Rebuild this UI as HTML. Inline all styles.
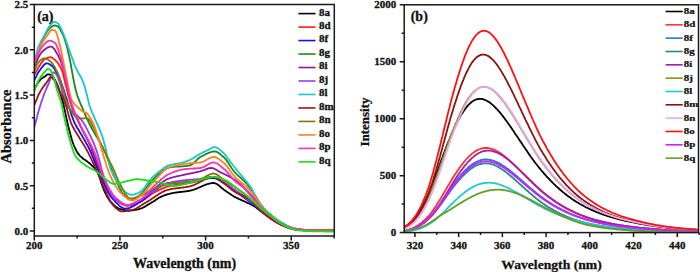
<!DOCTYPE html>
<html><head><meta charset="utf-8"><style>
html,body{margin:0;padding:0;background:#fff;}
svg{display:block;font-family:"Liberation Serif", serif;font-weight:bold;} text{fill:#111;stroke:#111;stroke-width:0.3px;}
</style></head><body>
<svg width="700" height="272" viewBox="0 0 700 272">
<clipPath id="ca"><rect x="34.3" y="4.5" width="300.0" height="231.5"/></clipPath>
<clipPath id="cb"><rect x="404.2" y="4.8" width="294.30" height="227.80"/></clipPath>
<g clip-path="url(#ca)" fill="none" stroke-width="1.8" stroke-linejoin="round"><path d="M34.5,89.0 35.2,87.5 36.0,86.0 36.8,84.6 37.5,83.3 38.2,82.2 39.0,81.1 39.8,80.3 40.5,79.5 41.2,78.9 42.0,78.3 42.8,77.8 43.5,77.3 44.2,76.9 45.0,76.4 45.8,75.8 46.5,75.1 47.2,74.5 48.0,74.3 48.8,74.4 49.5,74.5 50.2,74.7 51.0,75.0 51.8,75.5 52.5,76.2 53.2,77.2 54.0,78.4 54.8,79.6 55.5,80.9 56.2,82.4 57.0,84.1 57.8,85.9 58.5,88.0 59.2,90.2 60.0,92.4 60.8,94.8 61.5,97.3 62.2,99.8 63.0,102.6 63.8,105.7 64.5,109.1 65.2,112.6 66.0,116.2 66.8,119.7 67.5,123.0 68.2,126.0 69.0,128.9 69.8,131.9 70.5,134.8 71.2,137.5 72.0,140.1 72.8,142.5 73.5,144.5 74.2,146.3 75.0,147.9 75.8,149.5 76.5,150.9 77.2,152.2 78.0,153.4 78.8,154.4 79.5,155.3 80.2,156.1 81.0,156.9 81.8,157.5 82.5,158.2 83.2,158.7 84.0,159.3 84.8,159.8 85.5,160.3 86.2,160.8 87.0,161.3 87.8,161.9 88.5,162.4 89.2,163.0 90.0,163.7 90.8,164.4 91.5,165.1 92.2,165.8 93.0,166.5 93.8,167.2 94.5,168.0 95.2,168.9 96.0,169.8 96.8,170.9 97.5,172.0 98.2,173.5 99.0,175.4 99.8,177.7 100.5,180.2 101.2,182.7 102.0,185.0 102.8,187.1 103.5,188.9 104.2,190.6 105.0,192.3 105.8,193.9 106.5,195.4 107.2,196.8 108.0,198.1 108.8,199.3 109.5,200.4 110.2,201.3 111.0,202.1 111.8,203.0 112.5,203.7 113.2,204.5 114.0,205.2 114.8,205.9 115.5,206.5 116.2,207.1 117.0,207.6 117.8,208.1 118.5,208.4 119.2,208.8 120.0,209.0 120.8,209.2 121.5,209.4 122.2,209.6 123.0,209.7 123.8,209.9 124.5,210.0 125.2,210.2 126.0,210.3 126.8,210.4 127.5,210.4 128.2,210.5 129.0,210.5 129.8,210.5 130.5,210.5 131.2,210.4 132.0,210.4 132.8,210.3 133.5,210.2 134.2,210.1 135.0,209.9 135.8,209.8 136.5,209.6 137.2,209.5 138.0,209.3 138.8,209.1 139.5,208.9 140.2,208.7 141.0,208.5 141.8,208.2 142.5,207.9 143.2,207.5 144.0,207.1 144.8,206.7 145.5,206.2 146.2,205.8 147.0,205.3 147.8,204.8 148.5,204.4 149.2,203.9 150.0,203.5 150.8,203.1 151.5,202.6 152.2,202.1 153.0,201.7 153.8,201.2 154.5,200.7 155.2,200.2 156.0,199.7 156.8,199.2 157.5,198.7 158.2,198.2 159.0,197.8 159.8,197.4 160.5,197.0 161.2,196.6 162.0,196.3 162.8,196.0 163.5,195.7 164.2,195.4 165.0,195.2 165.8,194.9 166.5,194.7 167.2,194.4 168.0,194.2 168.8,194.0 169.5,193.8 170.2,193.6 171.0,193.4 171.8,193.3 172.5,193.1 173.2,193.0 174.0,192.8 174.8,192.7 175.5,192.6 176.2,192.5 177.0,192.4 177.8,192.3 178.5,192.2 179.2,192.1 180.0,192.0 180.8,191.9 181.5,191.8 182.2,191.8 183.0,191.7 183.8,191.6 184.5,191.5 185.2,191.4 186.0,191.3 186.8,191.2 187.5,191.1 188.2,191.0 189.0,190.9 189.8,190.7 190.5,190.6 191.2,190.4 192.0,190.2 192.8,190.0 193.5,189.8 194.2,189.5 195.0,189.2 195.8,188.9 196.5,188.6 197.2,188.3 198.0,188.0 198.8,187.7 199.5,187.3 200.2,187.0 201.0,186.7 201.8,186.3 202.5,186.0 203.2,185.7 204.0,185.4 204.8,185.0 205.5,184.8 206.2,184.5 207.0,184.2 207.8,184.0 208.5,183.8 209.2,183.6 210.0,183.4 210.8,183.3 211.5,183.1 212.2,183.1 213.0,183.0 213.8,183.0 214.5,183.1 215.2,183.3 216.0,183.6 216.8,184.0 217.5,184.5 218.2,185.0 219.0,185.6 219.8,186.2 220.5,186.8 221.2,187.5 222.0,188.2 222.8,188.8 223.5,189.4 224.2,190.0 225.0,190.5 225.8,191.0 226.5,191.5 227.2,192.0 228.0,192.5 228.8,193.0 229.5,193.5 230.2,194.1 231.0,194.6 231.8,195.0 232.5,195.5 233.2,196.0 234.0,196.4 234.8,196.9 235.5,197.3 236.2,197.7 237.0,198.0 237.8,198.4 238.5,198.7 239.2,199.1 240.0,199.4 240.8,199.7 241.5,200.1 242.2,200.4 243.0,200.7 243.8,201.1 244.5,201.4 245.2,201.8 246.0,202.1 246.8,202.5 247.5,202.8 248.2,203.2 249.0,203.5 249.8,203.9 250.5,204.2 251.2,204.6 252.0,205.0 252.8,205.4 253.5,205.9 254.2,206.3 255.0,206.8 255.8,207.3 256.5,207.9 257.2,208.4 258.0,209.0 258.8,209.5 259.5,210.1 260.2,210.7 261.0,211.3 261.8,211.8 262.5,212.4 263.2,212.9 264.0,213.5 264.8,214.1 265.5,214.7 266.2,215.2 267.0,215.8 267.8,216.4 268.5,216.9 269.2,217.5 270.0,218.0 270.8,218.5 271.5,219.0 272.2,219.5 273.0,220.1 273.8,220.6 274.5,221.1 275.2,221.5 276.0,222.0 276.8,222.5 277.5,222.9 278.2,223.3 279.0,223.7 279.8,224.1 280.5,224.4 281.2,224.8 282.0,225.1 282.8,225.4 283.5,225.8 284.2,226.1 285.0,226.4 285.8,226.7 286.5,227.0 287.2,227.3 288.0,227.6 288.8,227.9 289.5,228.1 290.2,228.3 291.0,228.6 291.8,228.8 292.5,228.9 293.2,229.1 294.0,229.2 294.8,229.4 295.5,229.5 296.2,229.6 297.0,229.6 297.8,229.7 298.5,229.8 299.2,229.9 300.0,230.0 300.8,230.1 301.5,230.1 302.2,230.2 303.0,230.3 303.8,230.3 304.5,230.4 305.2,230.4 306.0,230.5 306.8,230.5 307.5,230.5 308.2,230.6 309.0,230.6 309.8,230.6 310.5,230.6 311.2,230.6 312.0,230.6 312.8,230.6 313.5,230.7 314.2,230.7 315.0,230.7 315.8,230.7 316.5,230.7 317.2,230.7 318.0,230.7 318.8,230.7 319.5,230.7 320.2,230.7 321.0,230.7 321.8,230.7 322.5,230.8 323.2,230.8 324.0,230.8 324.8,230.8 325.5,230.8 326.2,230.8 327.0,230.8 327.8,230.8 328.5,230.8 329.2,230.8 330.0,230.8 330.8,230.8 331.5,230.8 332.2,230.8 333.0,230.8 333.8,230.8" stroke="#000000"/><path d="M34.5,75.0 35.2,73.4 36.0,71.9 36.8,70.4 37.5,69.1 38.2,67.8 39.0,66.5 39.8,65.4 40.5,64.3 41.2,63.2 42.0,62.1 42.8,61.1 43.5,60.2 44.2,59.5 45.0,59.0 45.8,58.6 46.5,58.3 47.2,57.9 48.0,57.7 48.8,57.4 49.5,57.3 50.2,57.2 51.0,57.3 51.8,57.5 52.5,57.9 53.2,58.5 54.0,59.1 54.8,59.8 55.5,60.4 56.2,61.2 57.0,62.0 57.8,63.0 58.5,64.0 59.2,65.2 60.0,66.5 60.8,67.9 61.5,69.5 62.2,71.4 63.0,74.0 63.8,77.0 64.5,80.1 65.2,83.0 66.0,86.0 66.8,89.1 67.5,92.2 68.2,95.2 69.0,98.0 69.8,100.5 70.5,102.7 71.2,104.8 72.0,106.8 72.8,108.8 73.5,110.7 74.2,112.5 75.0,114.2 75.8,115.9 76.5,117.5 77.2,119.2 78.0,120.8 78.8,122.4 79.5,123.9 80.2,125.5 81.0,127.0 81.8,128.5 82.5,129.9 83.2,131.2 84.0,132.6 84.8,133.9 85.5,135.3 86.2,136.6 87.0,138.1 87.8,139.6 88.5,141.1 89.2,142.8 90.0,144.6 90.8,146.5 91.5,148.5 92.2,150.6 93.0,152.7 93.8,154.8 94.5,157.0 95.2,159.2 96.0,161.4 96.8,163.5 97.5,165.6 98.2,167.7 99.0,169.6 99.8,171.4 100.5,173.2 101.2,174.9 102.0,176.7 102.8,178.5 103.5,180.3 104.2,182.0 105.0,183.8 105.8,185.4 106.5,187.1 107.2,188.6 108.0,190.1 108.8,191.5 109.5,192.7 110.2,193.9 111.0,194.9 111.8,195.7 112.5,196.5 113.2,197.2 114.0,197.9 114.8,198.6 115.5,199.3 116.2,200.0 117.0,200.6 117.8,201.3 118.5,201.9 119.2,202.4 120.0,202.9 120.8,203.4 121.5,203.9 122.2,204.3 123.0,204.7 123.8,205.0 124.5,205.3 125.2,205.5 126.0,205.7 126.8,205.8 127.5,205.8 128.2,205.8 129.0,205.7 129.8,205.6 130.5,205.5 131.2,205.3 132.0,205.1 132.8,204.9 133.5,204.6 134.2,204.4 135.0,204.1 135.8,203.8 136.5,203.5 137.2,203.2 138.0,202.8 138.8,202.5 139.5,202.2 140.2,201.9 141.0,201.5 141.8,201.1 142.5,200.7 143.2,200.2 144.0,199.7 144.8,199.2 145.5,198.7 146.2,198.1 147.0,197.5 147.8,197.0 148.5,196.4 149.2,195.8 150.0,195.2 150.8,194.7 151.5,194.1 152.2,193.6 153.0,193.1 153.8,192.7 154.5,192.3 155.2,191.9 156.0,191.5 156.8,191.1 157.5,190.8 158.2,190.4 159.0,190.0 159.8,189.7 160.5,189.4 161.2,189.0 162.0,188.7 162.8,188.4 163.5,188.1 164.2,187.8 165.0,187.5 165.8,187.2 166.5,187.0 167.2,186.7 168.0,186.5 168.8,186.3 169.5,186.1 170.2,185.9 171.0,185.8 171.8,185.6 172.5,185.5 173.2,185.4 174.0,185.2 174.8,185.1 175.5,185.0 176.2,184.9 177.0,184.8 177.8,184.7 178.5,184.6 179.2,184.5 180.0,184.4 180.8,184.3 181.5,184.2 182.2,184.1 183.0,184.0 183.8,184.0 184.5,183.9 185.2,183.8 186.0,183.7 186.8,183.5 187.5,183.4 188.2,183.3 189.0,183.2 189.8,183.0 190.5,182.9 191.2,182.7 192.0,182.6 192.8,182.4 193.5,182.1 194.2,181.9 195.0,181.7 195.8,181.5 196.5,181.2 197.2,180.9 198.0,180.7 198.8,180.4 199.5,180.2 200.2,179.9 201.0,179.6 201.8,179.4 202.5,179.1 203.2,178.9 204.0,178.6 204.8,178.4 205.5,178.2 206.2,178.0 207.0,177.8 207.8,177.6 208.5,177.5 209.2,177.3 210.0,177.2 210.8,177.1 211.5,177.1 212.2,177.0 213.0,177.0 213.8,177.0 214.5,177.2 215.2,177.4 216.0,177.6 216.8,177.9 217.5,178.3 218.2,178.7 219.0,179.1 219.8,179.6 220.5,180.1 221.2,180.6 222.0,181.1 222.8,181.6 223.5,182.1 224.2,182.5 225.0,183.0 225.8,183.5 226.5,183.9 227.2,184.4 228.0,184.9 228.8,185.4 229.5,186.0 230.2,186.5 231.0,187.1 231.8,187.6 232.5,188.2 233.2,188.7 234.0,189.3 234.8,189.8 235.5,190.4 236.2,190.9 237.0,191.4 237.8,192.0 238.5,192.5 239.2,193.0 240.0,193.6 240.8,194.1 241.5,194.7 242.2,195.2 243.0,195.8 243.8,196.3 244.5,196.9 245.2,197.4 246.0,198.0 246.8,198.5 247.5,199.1 248.2,199.7 249.0,200.2 249.8,200.8 250.5,201.4 251.2,202.0 252.0,202.6 252.8,203.2 253.5,203.8 254.2,204.4 255.0,205.0 255.8,205.7 256.5,206.3 257.2,206.9 258.0,207.6 258.8,208.2 259.5,208.8 260.2,209.4 261.0,210.1 261.8,210.7 262.5,211.3 263.2,211.9 264.0,212.5 264.8,213.1 265.5,213.6 266.2,214.2 267.0,214.7 267.8,215.3 268.5,215.9 269.2,216.4 270.0,217.0 270.8,217.5 271.5,218.1 272.2,218.6 273.0,219.2 273.8,219.7 274.5,220.2 275.2,220.7 276.0,221.2 276.8,221.7 277.5,222.1 278.2,222.6 279.0,223.0 279.8,223.4 280.5,223.7 281.2,224.1 282.0,224.5 282.8,224.8 283.5,225.2 284.2,225.6 285.0,225.9 285.8,226.2 286.5,226.6 287.2,226.9 288.0,227.2 288.8,227.5 289.5,227.8 290.2,228.0 291.0,228.3 291.8,228.5 292.5,228.7 293.2,228.9 294.0,229.0 294.8,229.2 295.5,229.3 296.2,229.4 297.0,229.5 297.8,229.6 298.5,229.7 299.2,229.8 300.0,229.8 300.8,229.9 301.5,230.0 302.2,230.1 303.0,230.1 303.8,230.2 304.5,230.3 305.2,230.3 306.0,230.4 306.8,230.4 307.5,230.4 308.2,230.5 309.0,230.5 309.8,230.5 310.5,230.5 311.2,230.5 312.0,230.5 312.8,230.5 313.5,230.5 314.2,230.5 315.0,230.5 315.8,230.5 316.5,230.5 317.2,230.6 318.0,230.6 318.8,230.6 319.5,230.6 320.2,230.6 321.0,230.6 321.8,230.6 322.5,230.6 323.2,230.6 324.0,230.6 324.8,230.6 325.5,230.6 326.2,230.6 327.0,230.6 327.8,230.6 328.5,230.6 329.2,230.6 330.0,230.6 330.8,230.6 331.5,230.6 332.2,230.6 333.0,230.6 333.8,230.6" stroke="#ff1a1a"/><path d="M34.5,80.0 35.2,78.4 36.0,76.8 36.8,75.3 37.5,73.9 38.2,72.6 39.0,71.4 39.8,70.3 40.5,69.3 41.2,68.3 42.0,67.3 42.8,66.4 43.5,65.5 44.2,64.7 45.0,64.1 45.8,63.6 46.5,63.3 47.2,63.3 48.0,63.5 48.8,63.8 49.5,64.2 50.2,64.7 51.0,65.2 51.8,65.8 52.5,66.4 53.2,67.3 54.0,68.3 54.8,69.4 55.5,70.7 56.2,72.1 57.0,73.5 57.8,74.9 58.5,76.4 59.2,78.1 60.0,79.8 60.8,81.7 61.5,83.7 62.2,85.7 63.0,87.8 63.8,90.1 64.5,92.4 65.2,94.8 66.0,97.2 66.8,99.5 67.5,101.9 68.2,104.3 69.0,106.7 69.8,109.2 70.5,111.6 71.2,114.0 72.0,116.2 72.8,118.4 73.5,120.3 74.2,122.1 75.0,123.7 75.8,125.2 76.5,126.5 77.2,127.8 78.0,129.1 78.8,130.3 79.5,131.5 80.2,132.7 81.0,133.9 81.8,135.3 82.5,136.6 83.2,137.9 84.0,139.2 84.8,140.5 85.5,141.8 86.2,143.2 87.0,144.5 87.8,145.9 88.5,147.4 89.2,148.9 90.0,150.4 90.8,152.1 91.5,153.8 92.2,155.6 93.0,157.5 93.8,159.4 94.5,161.4 95.2,163.3 96.0,165.3 96.8,167.2 97.5,169.1 98.2,171.0 99.0,172.8 99.8,174.5 100.5,176.1 101.2,177.7 102.0,179.4 102.8,181.1 103.5,182.7 104.2,184.4 105.0,186.0 105.8,187.6 106.5,189.1 107.2,190.6 108.0,192.0 108.8,193.3 109.5,194.6 110.2,195.7 111.0,196.8 111.8,197.7 112.5,198.6 113.2,199.4 114.0,200.2 114.8,201.1 115.5,201.9 116.2,202.7 117.0,203.4 117.8,204.2 118.5,204.9 119.2,205.6 120.0,206.2 120.8,206.7 121.5,207.2 122.2,207.6 123.0,208.0 123.8,208.3 124.5,208.5 125.2,208.6 126.0,208.6 126.8,208.5 127.5,208.4 128.2,208.3 129.0,208.0 129.8,207.8 130.5,207.5 131.2,207.2 132.0,206.8 132.8,206.4 133.5,206.0 134.2,205.5 135.0,205.1 135.8,204.6 136.5,204.2 137.2,203.7 138.0,203.2 138.8,202.8 139.5,202.3 140.2,201.9 141.0,201.4 141.8,200.9 142.5,200.3 143.2,199.7 144.0,199.1 144.8,198.5 145.5,197.9 146.2,197.2 147.0,196.5 147.8,195.9 148.5,195.2 149.2,194.5 150.0,193.8 150.8,193.2 151.5,192.6 152.2,192.0 153.0,191.4 153.8,190.8 154.5,190.3 155.2,189.8 156.0,189.4 156.8,188.9 157.5,188.4 158.2,187.9 159.0,187.4 159.8,186.9 160.5,186.4 161.2,185.9 162.0,185.5 162.8,185.0 163.5,184.7 164.2,184.3 165.0,184.0 165.8,183.7 166.5,183.4 167.2,183.2 168.0,183.1 168.8,183.0 169.5,182.9 170.2,182.9 171.0,182.8 171.8,182.8 172.5,182.7 173.2,182.7 174.0,182.6 174.8,182.6 175.5,182.6 176.2,182.5 177.0,182.5 177.8,182.5 178.5,182.5 179.2,182.5 180.0,182.4 180.8,182.4 181.5,182.4 182.2,182.4 183.0,182.3 183.8,182.3 184.5,182.3 185.2,182.3 186.0,182.2 186.8,182.2 187.5,182.2 188.2,182.1 189.0,182.1 189.8,182.0 190.5,182.0 191.2,181.9 192.0,181.8 192.8,181.7 193.5,181.6 194.2,181.4 195.0,181.3 195.8,181.1 196.5,181.0 197.2,180.8 198.0,180.6 198.8,180.5 199.5,180.3 200.2,180.1 201.0,179.9 201.8,179.7 202.5,179.5 203.2,179.4 204.0,179.2 204.8,179.0 205.5,178.9 206.2,178.7 207.0,178.6 207.8,178.5 208.5,178.3 209.2,178.2 210.0,178.2 210.8,178.1 211.5,178.0 212.2,178.0 213.0,178.0 213.8,178.0 214.5,178.2 215.2,178.4 216.0,178.6 216.8,178.9 217.5,179.3 218.2,179.7 219.0,180.1 219.8,180.6 220.5,181.1 221.2,181.6 222.0,182.1 222.8,182.6 223.5,183.1 224.2,183.5 225.0,184.0 225.8,184.5 226.5,184.9 227.2,185.4 228.0,185.9 228.8,186.4 229.5,187.0 230.2,187.5 231.0,188.1 231.8,188.6 232.5,189.2 233.2,189.7 234.0,190.3 234.8,190.8 235.5,191.4 236.2,191.9 237.0,192.4 237.8,193.0 238.5,193.5 239.2,194.0 240.0,194.6 240.8,195.1 241.5,195.7 242.2,196.2 243.0,196.8 243.8,197.3 244.5,197.9 245.2,198.4 246.0,199.0 246.8,199.5 247.5,200.1 248.2,200.7 249.0,201.2 249.8,201.8 250.5,202.4 251.2,203.0 252.0,203.6 252.8,204.2 253.5,204.8 254.2,205.4 255.0,206.1 255.8,206.7 256.5,207.3 257.2,208.0 258.0,208.6 258.8,209.2 259.5,209.9 260.2,210.5 261.0,211.1 261.8,211.7 262.5,212.3 263.2,212.9 264.0,213.5 264.8,214.1 265.5,214.6 266.2,215.2 267.0,215.7 267.8,216.3 268.5,216.8 269.2,217.3 270.0,217.9 270.8,218.4 271.5,218.9 272.2,219.4 273.0,220.0 273.8,220.4 274.5,220.9 275.2,221.4 276.0,221.9 276.8,222.3 277.5,222.7 278.2,223.1 279.0,223.5 279.8,223.9 280.5,224.2 281.2,224.6 282.0,224.9 282.8,225.3 283.5,225.6 284.2,225.9 285.0,226.2 285.8,226.6 286.5,226.9 287.2,227.2 288.0,227.5 288.8,227.7 289.5,228.0 290.2,228.2 291.0,228.4 291.8,228.7 292.5,228.8 293.2,229.0 294.0,229.1 294.8,229.3 295.5,229.4 296.2,229.5 297.0,229.6 297.8,229.6 298.5,229.7 299.2,229.8 300.0,229.9 300.8,230.0 301.5,230.0 302.2,230.1 303.0,230.2 303.8,230.2 304.5,230.3 305.2,230.3 306.0,230.4 306.8,230.4 307.5,230.4 308.2,230.5 309.0,230.5 309.8,230.5 310.5,230.5 311.2,230.5 312.0,230.5 312.8,230.5 313.5,230.5 314.2,230.5 315.0,230.5 315.8,230.5 316.5,230.5 317.2,230.6 318.0,230.6 318.8,230.6 319.5,230.6 320.2,230.6 321.0,230.6 321.8,230.6 322.5,230.6 323.2,230.6 324.0,230.6 324.8,230.6 325.5,230.6 326.2,230.6 327.0,230.6 327.8,230.6 328.5,230.6 329.2,230.6 330.0,230.6 330.8,230.6 331.5,230.6 332.2,230.6 333.0,230.6 333.8,230.6" stroke="#1010f0"/><path d="M34.5,66.0 35.2,63.0 36.0,60.2 36.8,57.5 37.5,54.8 38.2,52.3 39.0,50.0 39.8,47.7 40.5,45.6 41.2,43.6 42.0,41.6 42.8,39.7 43.5,38.0 44.2,36.4 45.0,35.0 45.8,33.7 46.5,32.4 47.2,31.3 48.0,30.2 48.8,29.2 49.5,28.4 50.2,27.8 51.0,27.2 51.8,26.6 52.5,26.2 53.2,25.8 54.0,25.5 54.8,25.5 55.5,25.6 56.2,25.8 57.0,26.1 57.8,26.4 58.5,26.9 59.2,27.9 60.0,29.1 60.8,30.5 61.5,31.9 62.2,33.4 63.0,35.0 63.8,36.8 64.5,38.8 65.2,40.9 66.0,43.4 66.8,46.1 67.5,49.1 68.2,52.2 69.0,55.6 69.8,59.0 70.5,62.7 71.2,67.0 72.0,71.4 72.8,75.7 73.5,79.5 74.2,83.2 75.0,86.7 75.8,90.0 76.5,92.8 77.2,95.2 78.0,97.4 78.8,99.4 79.5,101.2 80.2,103.0 81.0,104.8 81.8,106.6 82.5,108.4 83.2,110.2 84.0,112.0 84.8,113.7 85.5,115.4 86.2,117.1 87.0,118.7 87.8,120.3 88.5,121.9 89.2,123.5 90.0,125.0 90.8,126.5 91.5,127.9 92.2,129.3 93.0,130.6 93.8,131.9 94.5,133.2 95.2,134.4 96.0,135.7 96.8,136.9 97.5,138.1 98.2,139.4 99.0,140.6 99.8,141.9 100.5,143.2 101.2,144.6 102.0,146.0 102.8,147.4 103.5,149.0 104.2,150.5 105.0,152.2 105.8,154.0 106.5,155.9 107.2,157.8 108.0,159.8 108.8,161.9 109.5,163.9 110.2,166.0 111.0,168.0 111.8,170.1 112.5,172.0 113.2,173.9 114.0,175.7 114.8,177.5 115.5,179.1 116.2,180.8 117.0,182.4 117.8,184.1 118.5,185.8 119.2,187.4 120.0,188.9 120.8,190.4 121.5,191.7 122.2,192.9 123.0,193.9 123.8,194.8 124.5,195.4 125.2,196.1 126.0,196.8 126.8,197.4 127.5,197.9 128.2,198.4 129.0,198.8 129.8,199.1 130.5,199.3 131.2,199.4 132.0,199.4 132.8,199.2 133.5,199.0 134.2,198.7 135.0,198.3 135.8,197.9 136.5,197.4 137.2,196.9 138.0,196.4 138.8,195.9 139.5,195.4 140.2,194.8 141.0,194.2 141.8,193.5 142.5,192.6 143.2,191.8 144.0,190.8 144.8,189.8 145.5,188.8 146.2,187.8 147.0,186.8 147.8,185.7 148.5,184.8 149.2,183.9 150.0,183.0 150.8,182.2 151.5,181.4 152.2,180.5 153.0,179.7 153.8,178.9 154.5,178.1 155.2,177.3 156.0,176.6 156.8,175.8 157.5,175.1 158.2,174.4 159.0,173.8 159.8,173.2 160.5,172.6 161.2,172.0 162.0,171.4 162.8,170.8 163.5,170.3 164.2,169.7 165.0,169.2 165.8,168.8 166.5,168.3 167.2,168.0 168.0,167.7 168.8,167.6 169.5,167.4 170.2,167.3 171.0,167.2 171.8,167.1 172.5,167.0 173.2,166.9 174.0,166.9 174.8,166.8 175.5,166.7 176.2,166.7 177.0,166.6 177.8,166.6 178.5,166.6 179.2,166.5 180.0,166.5 180.8,166.4 181.5,166.4 182.2,166.3 183.0,166.3 183.8,166.2 184.5,166.2 185.2,166.1 186.0,166.0 186.8,165.9 187.5,165.8 188.2,165.7 189.0,165.6 189.8,165.4 190.5,165.3 191.2,164.9 192.0,164.5 192.8,163.9 193.5,163.3 194.2,162.6 195.0,161.8 195.8,161.1 196.5,160.3 197.2,159.5 198.0,158.8 198.8,158.1 199.5,157.6 200.2,157.1 201.0,156.7 201.8,156.3 202.5,155.9 203.2,155.5 204.0,155.1 204.8,154.7 205.5,154.3 206.2,153.9 207.0,153.6 207.8,153.2 208.5,152.9 209.2,152.6 210.0,152.3 210.8,152.1 211.5,151.9 212.2,151.7 213.0,151.6 213.8,151.5 214.5,151.5 215.2,151.5 216.0,151.7 216.8,151.9 217.5,152.3 218.2,152.7 219.0,153.3 219.8,153.8 220.5,154.4 221.2,155.1 222.0,155.7 222.8,156.4 223.5,157.0 224.2,157.7 225.0,158.5 225.8,159.4 226.5,160.3 227.2,161.4 228.0,162.5 228.8,163.6 229.5,164.7 230.2,165.9 231.0,167.0 231.8,168.2 232.5,169.3 233.2,170.3 234.0,171.3 234.8,172.2 235.5,173.0 236.2,173.8 237.0,174.6 237.8,175.3 238.5,176.0 239.2,176.7 240.0,177.3 240.8,178.0 241.5,178.6 242.2,179.3 243.0,180.0 243.8,180.7 244.5,181.4 245.2,182.2 246.0,183.0 246.8,183.8 247.5,184.7 248.2,185.6 249.0,186.6 249.8,187.6 250.5,188.5 251.2,189.6 252.0,190.6 252.8,191.6 253.5,192.7 254.2,193.9 255.0,195.1 255.8,196.4 256.5,197.6 257.2,198.9 258.0,200.2 258.8,201.5 259.5,202.7 260.2,203.9 261.0,205.0 261.8,206.0 262.5,206.9 263.2,207.8 264.0,208.6 264.8,209.4 265.5,210.2 266.2,210.9 267.0,211.6 267.8,212.3 268.5,213.0 269.2,213.6 270.0,214.3 270.8,215.0 271.5,215.6 272.2,216.3 273.0,216.9 273.8,217.5 274.5,218.1 275.2,218.7 276.0,219.3 276.8,219.9 277.5,220.4 278.2,220.9 279.0,221.4 279.8,221.9 280.5,222.3 281.2,222.7 282.0,223.1 282.8,223.5 283.5,223.9 284.2,224.3 285.0,224.7 285.8,225.1 286.5,225.5 287.2,225.8 288.0,226.2 288.8,226.5 289.5,226.8 290.2,227.1 291.0,227.4 291.8,227.7 292.5,227.9 293.2,228.1 294.0,228.3 294.8,228.5 295.5,228.6 296.2,228.7 297.0,228.9 297.8,229.0 298.5,229.1 299.2,229.2 300.0,229.4 300.8,229.5 301.5,229.6 302.2,229.7 303.0,229.8 303.8,229.9 304.5,230.0 305.2,230.0 306.0,230.1 306.8,230.2 307.5,230.2 308.2,230.2 309.0,230.3 309.8,230.3 310.5,230.3 311.2,230.3 312.0,230.3 312.8,230.3 313.5,230.4 314.2,230.4 315.0,230.4 315.8,230.4 316.5,230.4 317.2,230.4 318.0,230.4 318.8,230.4 319.5,230.4 320.2,230.4 321.0,230.4 321.8,230.4 322.5,230.5 323.2,230.5 324.0,230.5 324.8,230.5 325.5,230.5 326.2,230.5 327.0,230.5 327.8,230.5 328.5,230.5 329.2,230.5 330.0,230.5 330.8,230.5 331.5,230.5 332.2,230.5 333.0,230.5 333.8,230.5" stroke="#1a8a1a"/><path d="M34.5,67.0 35.2,65.0 36.0,63.1 36.8,61.3 37.5,59.6 38.2,57.9 39.0,56.4 39.8,55.0 40.5,53.8 41.2,52.8 42.0,52.0 42.8,51.3 43.5,50.6 44.2,50.0 45.0,49.3 45.8,48.7 46.5,48.2 47.2,47.7 48.0,47.3 48.8,47.0 49.5,46.8 50.2,46.6 51.0,46.6 51.8,46.8 52.5,47.2 53.2,47.9 54.0,48.8 54.8,49.8 55.5,51.0 56.2,52.2 57.0,53.5 57.8,54.7 58.5,56.1 59.2,57.7 60.0,59.4 60.8,61.4 61.5,63.6 62.2,65.8 63.0,68.2 63.8,70.7 64.5,73.3 65.2,75.9 66.0,78.9 66.8,82.3 67.5,86.0 68.2,89.7 69.0,93.5 69.8,97.1 70.5,100.5 71.2,103.5 72.0,105.9 72.8,108.2 73.5,110.2 74.2,112.2 75.0,114.0 75.8,115.8 76.5,117.5 77.2,119.1 78.0,120.7 78.8,122.3 79.5,123.9 80.2,125.5 81.0,127.1 81.8,128.7 82.5,130.2 83.2,131.6 84.0,133.1 84.8,134.5 85.5,135.9 86.2,137.3 87.0,138.8 87.8,140.3 88.5,141.8 89.2,143.4 90.0,145.0 90.8,146.7 91.5,148.5 92.2,150.3 93.0,152.2 93.8,154.2 94.5,156.1 95.2,158.1 96.0,160.1 96.8,162.0 97.5,163.9 98.2,165.8 99.0,167.7 99.8,169.4 100.5,171.2 101.2,172.9 102.0,174.7 102.8,176.6 103.5,178.4 104.2,180.3 105.0,182.1 105.8,183.9 106.5,185.6 107.2,187.2 108.0,188.8 108.8,190.2 109.5,191.6 110.2,192.8 111.0,193.9 111.8,194.7 112.5,195.5 113.2,196.2 114.0,196.9 114.8,197.6 115.5,198.3 116.2,199.0 117.0,199.7 117.8,200.3 118.5,200.9 119.2,201.4 120.0,202.0 120.8,202.5 121.5,202.9 122.2,203.4 123.0,203.7 123.8,204.1 124.5,204.4 125.2,204.6 126.0,204.8 126.8,204.9 127.5,205.0 128.2,205.0 129.0,204.9 129.8,204.8 130.5,204.7 131.2,204.4 132.0,204.2 132.8,203.9 133.5,203.6 134.2,203.2 135.0,202.8 135.8,202.4 136.5,202.0 137.2,201.6 138.0,201.1 138.8,200.7 139.5,200.3 140.2,199.9 141.0,199.4 141.8,198.9 142.5,198.4 143.2,197.9 144.0,197.3 144.8,196.7 145.5,196.1 146.2,195.5 147.0,194.8 147.8,194.2 148.5,193.5 149.2,192.8 150.0,192.2 150.8,191.5 151.5,190.8 152.2,190.2 153.0,189.6 153.8,189.0 154.5,188.4 155.2,187.8 156.0,187.2 156.8,186.7 157.5,186.1 158.2,185.5 159.0,184.9 159.8,184.3 160.5,183.7 161.2,183.1 162.0,182.5 162.8,182.0 163.5,181.4 164.2,180.9 165.0,180.4 165.8,180.0 166.5,179.5 167.2,179.2 168.0,178.8 168.8,178.5 169.5,178.3 170.2,178.0 171.0,177.8 171.8,177.6 172.5,177.4 173.2,177.2 174.0,177.0 174.8,176.8 175.5,176.6 176.2,176.4 177.0,176.3 177.8,176.1 178.5,176.0 179.2,175.8 180.0,175.7 180.8,175.5 181.5,175.3 182.2,175.2 183.0,175.0 183.8,174.9 184.5,174.7 185.2,174.5 186.0,174.4 186.8,174.2 187.5,174.1 188.2,173.9 189.0,173.7 189.8,173.6 190.5,173.4 191.2,173.3 192.0,173.1 192.8,173.0 193.5,172.8 194.2,172.7 195.0,172.5 195.8,172.4 196.5,172.2 197.2,172.0 198.0,171.9 198.8,171.7 199.5,171.5 200.2,171.3 201.0,171.1 201.8,170.9 202.5,170.6 203.2,170.4 204.0,170.1 204.8,169.8 205.5,169.5 206.2,169.2 207.0,168.9 207.8,168.6 208.5,168.4 209.2,168.2 210.0,168.1 210.8,168.0 211.5,168.0 212.2,168.1 213.0,168.2 213.8,168.5 214.5,168.8 215.2,169.2 216.0,169.6 216.8,170.1 217.5,170.6 218.2,171.0 219.0,171.5 219.8,171.9 220.5,172.2 221.2,172.6 222.0,173.0 222.8,173.3 223.5,173.7 224.2,174.1 225.0,174.4 225.8,174.8 226.5,175.2 227.2,175.5 228.0,175.9 228.8,176.3 229.5,176.7 230.2,177.1 231.0,177.5 231.8,178.0 232.5,178.4 233.2,178.9 234.0,179.3 234.8,179.8 235.5,180.3 236.2,180.9 237.0,181.5 237.8,182.1 238.5,182.7 239.2,183.4 240.0,184.0 240.8,184.7 241.5,185.4 242.2,186.2 243.0,186.9 243.8,187.7 244.5,188.4 245.2,189.2 246.0,189.9 246.8,190.7 247.5,191.5 248.2,192.2 249.0,193.0 249.8,193.8 250.5,194.5 251.2,195.3 252.0,196.0 252.8,196.8 253.5,197.7 254.2,198.5 255.0,199.3 255.8,200.1 256.5,201.0 257.2,201.8 258.0,202.6 258.8,203.5 259.5,204.3 260.2,205.1 261.0,205.9 261.8,206.7 262.5,207.5 263.2,208.3 264.0,209.1 264.8,209.8 265.5,210.5 266.2,211.2 267.0,211.9 267.8,212.6 268.5,213.3 269.2,214.0 270.0,214.7 270.8,215.4 271.5,216.1 272.2,216.7 273.0,217.4 273.8,218.0 274.5,218.6 275.2,219.2 276.0,219.8 276.8,220.4 277.5,220.9 278.2,221.4 279.0,221.9 279.8,222.4 280.5,222.8 281.2,223.2 282.0,223.6 282.8,224.1 283.5,224.5 284.2,224.9 285.0,225.3 285.8,225.7 286.5,226.0 287.2,226.4 288.0,226.8 288.8,227.1 289.5,227.4 290.2,227.7 291.0,228.0 291.8,228.2 292.5,228.4 293.2,228.6 294.0,228.8 294.8,229.0 295.5,229.1 296.2,229.2 297.0,229.3 297.8,229.4 298.5,229.5 299.2,229.6 300.0,229.7 300.8,229.8 301.5,229.9 302.2,229.9 303.0,230.0 303.8,230.1 304.5,230.1 305.2,230.2 306.0,230.2 306.8,230.3 307.5,230.3 308.2,230.4 309.0,230.4 309.8,230.4 310.5,230.4 311.2,230.4 312.0,230.4 312.8,230.4 313.5,230.5 314.2,230.5 315.0,230.5 315.8,230.5 316.5,230.5 317.2,230.5 318.0,230.5 318.8,230.5 319.5,230.5 320.2,230.5 321.0,230.5 321.8,230.5 322.5,230.6 323.2,230.6 324.0,230.6 324.8,230.6 325.5,230.6 326.2,230.6 327.0,230.6 327.8,230.6 328.5,230.6 329.2,230.6 330.0,230.6 330.8,230.6 331.5,230.6 332.2,230.6 333.0,230.6 333.8,230.6" stroke="#8a1a9a"/><path d="M34.5,127.0 35.2,123.9 36.0,120.8 36.8,117.9 37.5,115.0 38.2,112.3 39.0,109.7 39.8,107.1 40.5,104.7 41.2,102.4 42.0,100.1 42.8,98.0 43.5,95.9 44.2,93.9 45.0,92.0 45.8,90.2 46.5,88.4 47.2,86.7 48.0,85.0 48.8,83.3 49.5,81.3 50.2,79.0 51.0,76.7 51.8,74.6 52.5,73.1 53.2,72.5 54.0,72.6 54.8,73.0 55.5,73.6 56.2,74.3 57.0,75.5 57.8,77.2 58.5,79.2 59.2,81.3 60.0,83.5 60.8,86.0 61.5,88.8 62.2,91.9 63.0,95.0 63.8,98.0 64.5,100.7 65.2,103.0 66.0,104.7 66.8,105.8 67.5,106.7 68.2,107.5 69.0,108.2 69.8,108.8 70.5,109.4 71.2,110.0 72.0,110.6 72.8,111.3 73.5,112.1 74.2,112.7 75.0,113.4 75.8,114.1 76.5,114.8 77.2,115.5 78.0,116.2 78.8,116.9 79.5,117.7 80.2,118.6 81.0,119.4 81.8,120.4 82.5,121.4 83.2,122.5 84.0,123.7 84.8,125.0 85.5,126.3 86.2,127.7 87.0,129.1 87.8,130.6 88.5,132.1 89.2,133.6 90.0,135.1 90.8,136.7 91.5,138.3 92.2,139.9 93.0,141.6 93.8,143.4 94.5,145.2 95.2,147.2 96.0,149.2 96.8,151.3 97.5,153.7 98.2,156.3 99.0,159.0 99.8,161.9 100.5,164.8 101.2,167.7 102.0,170.5 102.8,173.2 103.5,175.7 104.2,178.0 105.0,180.0 105.8,181.8 106.5,183.7 107.2,185.5 108.0,187.2 108.8,189.0 109.5,190.6 110.2,192.1 111.0,193.6 111.8,194.9 112.5,196.1 113.2,197.2 114.0,198.1 114.8,198.8 115.5,199.4 116.2,199.9 117.0,200.5 117.8,201.0 118.5,201.5 119.2,202.0 120.0,202.4 120.8,202.8 121.5,203.2 122.2,203.6 123.0,203.9 123.8,204.2 124.5,204.5 125.2,204.7 126.0,204.8 126.8,204.9 127.5,205.0 128.2,205.0 129.0,204.9 129.8,204.8 130.5,204.6 131.2,204.4 132.0,204.2 132.8,203.8 133.5,203.5 134.2,203.1 135.0,202.7 135.8,202.3 136.5,201.9 137.2,201.5 138.0,201.1 138.8,200.7 139.5,200.3 140.2,199.9 141.0,199.5 141.8,199.0 142.5,198.6 143.2,198.1 144.0,197.6 144.8,197.1 145.5,196.6 146.2,196.0 147.0,195.5 147.8,195.0 148.5,194.4 149.2,193.9 150.0,193.3 150.8,192.8 151.5,192.3 152.2,191.7 153.0,191.2 153.8,190.8 154.5,190.3 155.2,189.9 156.0,189.4 156.8,189.0 157.5,188.5 158.2,188.1 159.0,187.6 159.8,187.1 160.5,186.7 161.2,186.3 162.0,185.8 162.8,185.4 163.5,185.0 164.2,184.7 165.0,184.3 165.8,184.0 166.5,183.7 167.2,183.4 168.0,183.2 168.8,183.0 169.5,182.8 170.2,182.6 171.0,182.4 171.8,182.2 172.5,182.1 173.2,181.9 174.0,181.8 174.8,181.6 175.5,181.5 176.2,181.4 177.0,181.3 177.8,181.1 178.5,181.0 179.2,180.9 180.0,180.8 180.8,180.7 181.5,180.6 182.2,180.5 183.0,180.4 183.8,180.3 184.5,180.3 185.2,180.2 186.0,180.1 186.8,180.0 187.5,180.0 188.2,179.9 189.0,179.8 189.8,179.8 190.5,179.7 191.2,179.7 192.0,179.6 192.8,179.6 193.5,179.5 194.2,179.5 195.0,179.4 195.8,179.4 196.5,179.3 197.2,179.3 198.0,179.2 198.8,179.1 199.5,179.1 200.2,179.0 201.0,178.9 201.8,178.8 202.5,178.6 203.2,178.5 204.0,178.3 204.8,178.2 205.5,178.0 206.2,177.9 207.0,177.7 207.8,177.6 208.5,177.4 209.2,177.3 210.0,177.2 210.8,177.1 211.5,177.1 212.2,177.0 213.0,177.0 213.8,177.0 214.5,177.2 215.2,177.4 216.0,177.6 216.8,177.9 217.5,178.3 218.2,178.7 219.0,179.1 219.8,179.6 220.5,180.1 221.2,180.6 222.0,181.1 222.8,181.6 223.5,182.1 224.2,182.5 225.0,183.0 225.8,183.5 226.5,183.9 227.2,184.4 228.0,184.9 228.8,185.4 229.5,186.0 230.2,186.5 231.0,187.1 231.8,187.6 232.5,188.2 233.2,188.7 234.0,189.3 234.8,189.8 235.5,190.4 236.2,190.9 237.0,191.4 237.8,192.0 238.5,192.5 239.2,193.0 240.0,193.6 240.8,194.1 241.5,194.7 242.2,195.2 243.0,195.8 243.8,196.3 244.5,196.9 245.2,197.4 246.0,198.0 246.8,198.5 247.5,199.1 248.2,199.7 249.0,200.2 249.8,200.8 250.5,201.4 251.2,202.0 252.0,202.6 252.8,203.2 253.5,203.8 254.2,204.4 255.0,205.0 255.8,205.7 256.5,206.3 257.2,206.9 258.0,207.6 258.8,208.2 259.5,208.8 260.2,209.4 261.0,210.1 261.8,210.7 262.5,211.3 263.2,211.9 264.0,212.5 264.8,213.1 265.5,213.6 266.2,214.2 267.0,214.7 267.8,215.3 268.5,215.9 269.2,216.4 270.0,217.0 270.8,217.5 271.5,218.1 272.2,218.6 273.0,219.2 273.8,219.7 274.5,220.2 275.2,220.7 276.0,221.2 276.8,221.7 277.5,222.1 278.2,222.6 279.0,223.0 279.8,223.4 280.5,223.7 281.2,224.1 282.0,224.5 282.8,224.8 283.5,225.2 284.2,225.6 285.0,225.9 285.8,226.2 286.5,226.6 287.2,226.9 288.0,227.2 288.8,227.5 289.5,227.8 290.2,228.0 291.0,228.3 291.8,228.5 292.5,228.7 293.2,228.9 294.0,229.0 294.8,229.2 295.5,229.3 296.2,229.4 297.0,229.5 297.8,229.6 298.5,229.7 299.2,229.8 300.0,229.8 300.8,229.9 301.5,230.0 302.2,230.1 303.0,230.1 303.8,230.2 304.5,230.3 305.2,230.3 306.0,230.4 306.8,230.4 307.5,230.4 308.2,230.5 309.0,230.5 309.8,230.5 310.5,230.5 311.2,230.5 312.0,230.5 312.8,230.5 313.5,230.5 314.2,230.5 315.0,230.5 315.8,230.5 316.5,230.5 317.2,230.6 318.0,230.6 318.8,230.6 319.5,230.6 320.2,230.6 321.0,230.6 321.8,230.6 322.5,230.6 323.2,230.6 324.0,230.6 324.8,230.6 325.5,230.6 326.2,230.6 327.0,230.6 327.8,230.6 328.5,230.6 329.2,230.6 330.0,230.6 330.8,230.6 331.5,230.6 332.2,230.6 333.0,230.6 333.8,230.6" stroke="#9040ff"/><path d="M34.5,62.0 35.2,58.5 36.0,55.2 36.8,52.1 37.5,49.5 38.2,47.3 39.0,45.5 39.8,43.8 40.5,42.3 41.2,41.0 42.0,39.7 42.8,38.4 43.5,37.1 44.2,35.8 45.0,34.4 45.8,33.0 46.5,31.4 47.2,30.0 48.0,28.5 48.8,27.2 49.5,26.1 50.2,25.2 51.0,24.4 51.8,23.5 52.5,22.8 53.2,22.2 54.0,21.9 54.8,21.8 55.5,22.0 56.2,22.3 57.0,22.7 57.8,23.2 58.5,24.0 59.2,25.2 60.0,26.6 60.8,28.0 61.5,29.5 62.2,31.1 63.0,32.9 63.8,34.8 64.5,36.7 65.2,38.7 66.0,40.7 66.8,42.9 67.5,45.1 68.2,47.3 69.0,49.4 69.8,51.5 70.5,53.5 71.2,55.5 72.0,57.5 72.8,59.6 73.5,61.7 74.2,63.8 75.0,65.8 75.8,67.5 76.5,69.1 77.2,70.5 78.0,72.0 78.8,73.4 79.5,74.7 80.2,75.9 81.0,77.3 81.8,78.8 82.5,80.5 83.2,82.4 84.0,84.5 84.8,86.9 85.5,89.5 86.2,92.2 87.0,95.2 87.8,98.4 88.5,101.6 89.2,104.5 90.0,106.9 90.8,109.0 91.5,110.9 92.2,112.7 93.0,114.4 93.8,116.1 94.5,117.8 95.2,119.6 96.0,121.3 96.8,123.0 97.5,124.7 98.2,126.3 99.0,128.0 99.8,129.8 100.5,131.6 101.2,133.5 102.0,135.6 102.8,137.8 103.5,140.3 104.2,142.9 105.0,145.8 105.8,149.0 106.5,152.3 107.2,155.7 108.0,159.1 108.8,162.3 109.5,165.3 110.2,167.9 111.0,170.0 111.8,171.8 112.5,173.5 113.2,175.1 114.0,176.6 114.8,178.0 115.5,179.3 116.2,180.6 117.0,181.8 117.8,182.9 118.5,184.0 119.2,185.0 120.0,186.0 120.8,187.0 121.5,188.0 122.2,188.9 123.0,189.8 123.8,190.6 124.5,191.3 125.2,192.0 126.0,192.5 126.8,193.0 127.5,193.4 128.2,193.8 129.0,194.2 129.8,194.5 130.5,194.7 131.2,194.8 132.0,194.8 132.8,194.7 133.5,194.5 134.2,194.4 135.0,194.2 135.8,193.9 136.5,193.7 137.2,193.4 138.0,193.1 138.8,192.7 139.5,192.3 140.2,191.8 141.0,191.2 141.8,190.6 142.5,190.0 143.2,189.3 144.0,188.4 144.8,187.4 145.5,186.3 146.2,185.2 147.0,184.1 147.8,182.9 148.5,181.9 149.2,180.9 150.0,180.0 150.8,179.2 151.5,178.4 152.2,177.7 153.0,176.9 153.8,176.2 154.5,175.5 155.2,174.9 156.0,174.2 156.8,173.6 157.5,173.0 158.2,172.4 159.0,171.8 159.8,171.2 160.5,170.6 161.2,170.0 162.0,169.5 162.8,168.9 163.5,168.3 164.2,167.8 165.0,167.2 165.8,166.8 166.5,166.3 167.2,165.9 168.0,165.6 168.8,165.4 169.5,165.1 170.2,164.9 171.0,164.8 171.8,164.6 172.5,164.5 173.2,164.3 174.0,164.2 174.8,164.1 175.5,164.0 176.2,163.9 177.0,163.7 177.8,163.6 178.5,163.4 179.2,163.3 180.0,163.1 180.8,162.9 181.5,162.7 182.2,162.5 183.0,162.3 183.8,162.1 184.5,161.9 185.2,161.6 186.0,161.4 186.8,161.1 187.5,160.9 188.2,160.6 189.0,160.3 189.8,160.0 190.5,159.7 191.2,159.3 192.0,158.9 192.8,158.5 193.5,158.0 194.2,157.6 195.0,157.1 195.8,156.6 196.5,156.1 197.2,155.6 198.0,155.1 198.8,154.7 199.5,154.2 200.2,153.8 201.0,153.4 201.8,153.0 202.5,152.6 203.2,152.2 204.0,151.9 204.8,151.5 205.5,151.2 206.2,150.8 207.0,150.5 207.8,150.1 208.5,149.8 209.2,149.4 210.0,148.9 210.8,148.5 211.5,148.1 212.2,147.7 213.0,147.4 213.8,147.2 214.5,147.1 215.2,147.1 216.0,147.3 216.8,147.6 217.5,148.0 218.2,148.4 219.0,149.0 219.8,149.6 220.5,150.2 221.2,150.9 222.0,151.6 222.8,152.3 223.5,153.0 224.2,153.7 225.0,154.6 225.8,155.6 226.5,156.6 227.2,157.6 228.0,158.7 228.8,159.7 229.5,160.6 230.2,161.6 231.0,162.6 231.8,163.5 232.5,164.5 233.2,165.5 234.0,166.5 234.8,167.4 235.5,168.4 236.2,169.3 237.0,170.2 237.8,171.2 238.5,172.1 239.2,172.9 240.0,173.8 240.8,174.7 241.5,175.6 242.2,176.5 243.0,177.3 243.8,178.2 244.5,179.1 245.2,180.1 246.0,181.0 246.8,181.9 247.5,182.9 248.2,183.8 249.0,184.8 249.8,185.8 250.5,186.9 251.2,188.0 252.0,189.3 252.8,190.7 253.5,192.3 254.2,193.9 255.0,195.5 255.8,197.0 256.5,198.3 257.2,199.5 258.0,200.6 258.8,201.8 259.5,202.8 260.2,203.9 261.0,204.8 261.8,205.8 262.5,206.7 263.2,207.5 264.0,208.4 264.8,209.2 265.5,209.9 266.2,210.7 267.0,211.4 267.8,212.1 268.5,212.8 269.2,213.4 270.0,214.1 270.8,214.8 271.5,215.4 272.2,216.1 273.0,216.7 273.8,217.3 274.5,217.8 275.2,218.4 276.0,218.9 276.8,219.4 277.5,219.9 278.2,220.4 279.0,220.8 279.8,221.3 280.5,221.7 281.2,222.2 282.0,222.6 282.8,223.0 283.5,223.5 284.2,223.9 285.0,224.4 285.8,224.8 286.5,225.2 287.2,225.6 288.0,226.0 288.8,226.3 289.5,226.6 290.2,226.9 291.0,227.2 291.8,227.4 292.5,227.7 293.2,227.9 294.0,228.1 294.8,228.3 295.5,228.5 296.2,228.7 297.0,228.8 297.8,229.0 298.5,229.1 299.2,229.3 300.0,229.4 300.8,229.6 301.5,229.7 302.2,229.8 303.0,229.8 303.8,229.9 304.5,229.9 305.2,229.9 306.0,229.9 306.8,230.0 307.5,230.0 308.2,230.0 309.0,230.0 309.8,230.0 310.5,230.0 311.2,230.0 312.0,230.0 312.8,230.1 313.5,230.1 314.2,230.1 315.0,230.1 315.8,230.1 316.5,230.1 317.2,230.1 318.0,230.1 318.8,230.1 319.5,230.1 320.2,230.1 321.0,230.2 321.8,230.2 322.5,230.2 323.2,230.2 324.0,230.2 324.8,230.2 325.5,230.2 326.2,230.2 327.0,230.2 327.8,230.2 328.5,230.2 329.2,230.2 330.0,230.2 330.8,230.2 331.5,230.2 332.2,230.2 333.0,230.2 333.8,230.2" stroke="#18c8cc"/><path d="M34.5,105.0 35.2,103.0 36.0,101.0 36.8,99.1 37.5,97.3 38.2,95.5 39.0,93.9 39.8,92.5 40.5,91.1 41.2,89.9 42.0,88.7 42.8,87.6 43.5,86.6 44.2,85.6 45.0,84.6 45.8,83.6 46.5,82.7 47.2,81.6 48.0,80.5 48.8,79.1 49.5,77.8 50.2,77.1 51.0,77.1 51.8,77.5 52.5,78.3 53.2,79.1 54.0,80.0 54.8,81.0 55.5,82.3 56.2,83.8 57.0,85.4 57.8,87.1 58.5,88.8 59.2,90.4 60.0,92.0 60.8,93.4 61.5,94.8 62.2,96.2 63.0,97.6 63.8,99.2 64.5,101.0 65.2,103.2 66.0,105.6 66.8,108.2 67.5,110.9 68.2,113.7 69.0,116.4 69.8,118.9 70.5,121.3 71.2,123.3 72.0,125.0 72.8,126.6 73.5,128.0 74.2,129.4 75.0,130.7 75.8,131.9 76.5,133.1 77.2,134.3 78.0,135.5 78.8,136.7 79.5,138.0 80.2,139.3 81.0,140.5 81.8,141.7 82.5,142.9 83.2,144.1 84.0,145.3 84.8,146.6 85.5,147.8 86.2,149.1 87.0,150.5 87.8,151.9 88.5,153.3 89.2,154.8 90.0,156.3 90.8,157.8 91.5,159.4 92.2,161.0 93.0,162.6 93.8,164.2 94.5,165.8 95.2,167.5 96.0,169.1 96.8,170.8 97.5,172.5 98.2,174.2 99.0,175.9 99.8,177.6 100.5,179.4 101.2,181.3 102.0,183.1 102.8,185.0 103.5,186.8 104.2,188.6 105.0,190.2 105.8,191.8 106.5,193.4 107.2,195.1 108.0,196.6 108.8,198.2 109.5,199.7 110.2,201.0 111.0,202.3 111.8,203.5 112.5,204.4 113.2,205.3 114.0,206.0 114.8,206.8 115.5,207.6 116.2,208.3 117.0,208.9 117.8,209.6 118.5,210.1 119.2,210.6 120.0,211.0 120.8,211.2 121.5,211.4 122.2,211.4 123.0,211.4 123.8,211.3 124.5,211.3 125.2,211.2 126.0,211.1 126.8,211.0 127.5,210.9 128.2,210.8 129.0,210.6 129.8,210.5 130.5,210.3 131.2,210.2 132.0,210.0 132.8,209.8 133.5,209.6 134.2,209.3 135.0,209.0 135.8,208.6 136.5,208.2 137.2,207.8 138.0,207.3 138.8,206.9 139.5,206.4 140.2,205.9 141.0,205.5 141.8,205.0 142.5,204.5 143.2,204.0 144.0,203.6 144.8,203.1 145.5,202.7 146.2,202.3 147.0,201.8 147.8,201.4 148.5,200.9 149.2,200.4 150.0,199.9 150.8,199.4 151.5,198.9 152.2,198.4 153.0,197.9 153.8,197.4 154.5,196.9 155.2,196.4 156.0,195.9 156.8,195.4 157.5,194.9 158.2,194.5 159.0,194.0 159.8,193.5 160.5,193.1 161.2,192.7 162.0,192.2 162.8,191.9 163.5,191.5 164.2,191.1 165.0,190.8 165.8,190.5 166.5,190.2 167.2,190.0 168.0,189.8 168.8,189.6 169.5,189.4 170.2,189.2 171.0,189.1 171.8,188.9 172.5,188.8 173.2,188.7 174.0,188.6 174.8,188.5 175.5,188.4 176.2,188.3 177.0,188.2 177.8,188.1 178.5,188.0 179.2,187.9 180.0,187.8 180.8,187.7 181.5,187.6 182.2,187.6 183.0,187.5 183.8,187.4 184.5,187.3 185.2,187.2 186.0,187.0 186.8,186.9 187.5,186.8 188.2,186.7 189.0,186.5 189.8,186.4 190.5,186.2 191.2,186.0 192.0,185.7 192.8,185.5 193.5,185.2 194.2,184.9 195.0,184.5 195.8,184.2 196.5,183.8 197.2,183.4 198.0,183.0 198.8,182.6 199.5,182.2 200.2,181.8 201.0,181.4 201.8,181.0 202.5,180.6 203.2,180.2 204.0,179.8 204.8,179.4 205.5,179.1 206.2,178.7 207.0,178.4 207.8,178.1 208.5,177.8 209.2,177.6 210.0,177.4 210.8,177.2 211.5,177.1 212.2,177.0 213.0,176.9 213.8,176.9 214.5,177.0 215.2,177.2 216.0,177.5 216.8,177.9 217.5,178.4 218.2,178.9 219.0,179.4 219.8,180.0 220.5,180.7 221.2,181.3 222.0,181.9 222.8,182.5 223.5,183.0 224.2,183.5 225.0,184.1 225.8,184.7 226.5,185.3 227.2,185.9 228.0,186.5 228.8,187.2 229.5,187.8 230.2,188.4 231.0,189.1 231.8,189.7 232.5,190.3 233.2,190.8 234.0,191.3 234.8,191.8 235.5,192.3 236.2,192.7 237.0,193.1 237.8,193.5 238.5,193.9 239.2,194.2 240.0,194.5 240.8,194.9 241.5,195.2 242.2,195.5 243.0,195.8 243.8,196.1 244.5,196.5 245.2,196.8 246.0,197.2 246.8,197.6 247.5,198.0 248.2,198.4 249.0,198.9 249.8,199.4 250.5,200.0 251.2,200.7 252.0,201.5 252.8,202.4 253.5,203.2 254.2,204.0 255.0,204.8 255.8,205.5 256.5,206.3 257.2,207.0 258.0,207.8 258.8,208.5 259.5,209.2 260.2,209.9 261.0,210.7 261.8,211.4 262.5,212.1 263.2,212.7 264.0,213.4 264.8,214.0 265.5,214.6 266.2,215.2 267.0,215.8 267.8,216.3 268.5,216.9 269.2,217.4 270.0,218.0 270.8,218.5 271.5,219.0 272.2,219.6 273.0,220.1 273.8,220.6 274.5,221.0 275.2,221.5 276.0,221.9 276.8,222.4 277.5,222.8 278.2,223.2 279.0,223.5 279.8,223.9 280.5,224.2 281.2,224.6 282.0,224.9 282.8,225.2 283.5,225.5 284.2,225.9 285.0,226.2 285.8,226.5 286.5,226.8 287.2,227.0 288.0,227.3 288.8,227.6 289.5,227.8 290.2,228.0 291.0,228.2 291.8,228.4 292.5,228.6 293.2,228.8 294.0,228.9 294.8,229.0 295.5,229.1 296.2,229.1 297.0,229.2 297.8,229.3 298.5,229.3 299.2,229.4 300.0,229.5 300.8,229.5 301.5,229.6 302.2,229.6 303.0,229.7 303.8,229.7 304.5,229.8 305.2,229.8 306.0,229.8 306.8,229.8 307.5,229.9 308.2,229.9 309.0,229.9 309.8,229.9 310.5,229.9 311.2,229.9 312.0,229.9 312.8,229.9 313.5,229.9 314.2,229.9 315.0,229.9 315.8,229.9 316.5,229.9 317.2,229.9 318.0,229.9 318.8,229.9 319.5,229.9 320.2,229.9 321.0,229.9 321.8,229.9 322.5,229.9 323.2,229.9 324.0,229.9 324.8,229.9 325.5,229.9 326.2,229.9 327.0,229.9 327.8,229.9 328.5,229.9 329.2,229.9 330.0,229.9 330.8,229.9 331.5,229.9 332.2,229.9 333.0,229.9 333.8,229.9" stroke="#a01414"/><path d="M34.5,71.0 35.2,68.9 36.0,66.9 36.8,65.1 37.5,63.7 38.2,62.7 39.0,61.8 39.8,61.0 40.5,60.2 41.2,59.6 42.0,59.0 42.8,58.6 43.5,58.4 44.2,58.3 45.0,58.4 45.8,58.6 46.5,58.9 47.2,59.2 48.0,59.7 48.8,60.2 49.5,60.7 50.2,61.2 51.0,61.8 51.8,62.7 52.5,63.6 53.2,64.7 54.0,65.9 54.8,67.2 55.5,68.6 56.2,70.0 57.0,71.5 57.8,73.1 58.5,74.7 59.2,76.6 60.0,78.8 60.8,81.0 61.5,83.4 62.2,85.8 63.0,88.7 63.8,91.7 64.5,94.8 65.2,97.7 66.0,100.0 66.8,101.9 67.5,103.7 68.2,105.4 69.0,106.9 69.8,108.4 70.5,109.7 71.2,110.9 72.0,112.0 72.8,113.1 73.5,114.2 74.2,115.3 75.0,116.3 75.8,117.2 76.5,117.8 77.2,118.3 78.0,118.4 78.8,118.4 79.5,118.4 80.2,118.4 81.0,118.4 81.8,118.4 82.5,118.4 83.2,118.4 84.0,118.4 84.8,118.4 85.5,118.4 86.2,118.4 87.0,118.4 87.8,118.6 88.5,119.1 89.2,119.9 90.0,121.0 90.8,122.2 91.5,123.7 92.2,125.2 93.0,126.7 93.8,128.2 94.5,129.6 95.2,131.1 96.0,132.7 96.8,134.4 97.5,136.2 98.2,138.0 99.0,139.8 99.8,141.5 100.5,143.1 101.2,144.6 102.0,146.2 102.8,147.7 103.5,149.3 104.2,150.8 105.0,152.2 105.8,153.7 106.5,155.2 107.2,156.7 108.0,158.2 108.8,159.6 109.5,161.1 110.2,162.6 111.0,164.2 111.8,165.7 112.5,167.2 113.2,168.8 114.0,170.4 114.8,172.1 115.5,173.9 116.2,175.7 117.0,177.5 117.8,179.3 118.5,181.0 119.2,182.6 120.0,184.0 120.8,185.4 121.5,186.8 122.2,188.2 123.0,189.6 123.8,191.0 124.5,192.4 125.2,193.7 126.0,194.9 126.8,195.9 127.5,196.8 128.2,197.6 129.0,198.1 129.8,198.4 130.5,198.5 131.2,198.5 132.0,198.4 132.8,198.3 133.5,198.1 134.2,197.9 135.0,197.7 135.8,197.5 136.5,197.2 137.2,197.0 138.0,196.7 138.8,196.4 139.5,196.2 140.2,195.9 141.0,195.6 141.8,195.3 142.5,194.9 143.2,194.6 144.0,194.1 144.8,193.7 145.5,193.3 146.2,192.8 147.0,192.3 147.8,191.9 148.5,191.4 149.2,190.9 150.0,190.5 150.8,190.0 151.5,189.6 152.2,189.2 153.0,188.8 153.8,188.5 154.5,188.2 155.2,187.9 156.0,187.7 156.8,187.4 157.5,187.2 158.2,186.9 159.0,186.7 159.8,186.5 160.5,186.2 161.2,186.0 162.0,185.8 162.8,185.6 163.5,185.4 164.2,185.2 165.0,185.1 165.8,184.9 166.5,184.7 167.2,184.5 168.0,184.4 168.8,184.2 169.5,184.1 170.2,184.0 171.0,183.8 171.8,183.7 172.5,183.6 173.2,183.5 174.0,183.4 174.8,183.2 175.5,183.1 176.2,183.1 177.0,183.0 177.8,182.9 178.5,182.8 179.2,182.7 180.0,182.6 180.8,182.6 181.5,182.5 182.2,182.4 183.0,182.3 183.8,182.2 184.5,182.2 185.2,182.1 186.0,182.0 186.8,181.9 187.5,181.9 188.2,181.8 189.0,181.7 189.8,181.6 190.5,181.5 191.2,181.4 192.0,181.3 192.8,181.2 193.5,181.1 194.2,180.9 195.0,180.8 195.8,180.7 196.5,180.5 197.2,180.4 198.0,180.2 198.8,180.1 199.5,179.8 200.2,179.5 201.0,179.2 201.8,178.8 202.5,178.4 203.2,178.0 204.0,177.6 204.8,177.1 205.5,176.7 206.2,176.2 207.0,175.8 207.8,175.4 208.5,175.0 209.2,174.6 210.0,174.3 210.8,174.0 211.5,173.8 212.2,173.6 213.0,173.5 213.8,173.5 214.5,173.6 215.2,173.8 216.0,174.1 216.8,174.5 217.5,175.0 218.2,175.5 219.0,176.1 219.8,176.7 220.5,177.4 221.2,178.0 222.0,178.7 222.8,179.3 223.5,179.9 224.2,180.5 225.0,181.0 225.8,181.5 226.5,181.9 227.2,182.4 228.0,182.8 228.8,183.2 229.5,183.6 230.2,184.1 231.0,184.5 231.8,185.0 232.5,185.4 233.2,185.9 234.0,186.3 234.8,186.8 235.5,187.3 236.2,187.9 237.0,188.4 237.8,189.0 238.5,189.5 239.2,190.1 240.0,190.7 240.8,191.3 241.5,191.9 242.2,192.5 243.0,193.1 243.8,193.7 244.5,194.4 245.2,195.0 246.0,195.6 246.8,196.3 247.5,196.9 248.2,197.5 249.0,198.2 249.8,198.8 250.5,199.4 251.2,200.1 252.0,200.7 252.8,201.4 253.5,202.0 254.2,202.7 255.0,203.4 255.8,204.1 256.5,204.7 257.2,205.4 258.0,206.1 258.8,206.8 259.5,207.5 260.2,208.1 261.0,208.8 261.8,209.5 262.5,210.1 263.2,210.7 264.0,211.4 264.8,212.0 265.5,212.6 266.2,213.2 267.0,213.8 267.8,214.4 268.5,215.0 269.2,215.6 270.0,216.2 270.8,216.8 271.5,217.3 272.2,217.9 273.0,218.5 273.8,219.0 274.5,219.6 275.2,220.1 276.0,220.6 276.8,221.1 277.5,221.6 278.2,222.0 279.0,222.5 279.8,222.9 280.5,223.3 281.2,223.6 282.0,224.0 282.8,224.4 283.5,224.8 284.2,225.2 285.0,225.5 285.8,225.9 286.5,226.2 287.2,226.6 288.0,226.9 288.8,227.2 289.5,227.5 290.2,227.8 291.0,228.0 291.8,228.3 292.5,228.5 293.2,228.7 294.0,228.8 294.8,229.0 295.5,229.1 296.2,229.2 297.0,229.3 297.8,229.4 298.5,229.5 299.2,229.6 300.0,229.7 300.8,229.8 301.5,229.9 302.2,229.9 303.0,230.0 303.8,230.1 304.5,230.1 305.2,230.2 306.0,230.2 306.8,230.3 307.5,230.3 308.2,230.4 309.0,230.4 309.8,230.4 310.5,230.4 311.2,230.4 312.0,230.4 312.8,230.4 313.5,230.5 314.2,230.5 315.0,230.5 315.8,230.5 316.5,230.5 317.2,230.5 318.0,230.5 318.8,230.5 319.5,230.5 320.2,230.5 321.0,230.5 321.8,230.5 322.5,230.6 323.2,230.6 324.0,230.6 324.8,230.6 325.5,230.6 326.2,230.6 327.0,230.6 327.8,230.6 328.5,230.6 329.2,230.6 330.0,230.6 330.8,230.6 331.5,230.6 332.2,230.6 333.0,230.6 333.8,230.6" stroke="#7c7c00"/><path d="M34.5,64.0 35.2,61.2 36.0,58.6 36.8,56.0 37.5,53.6 38.2,51.4 39.0,49.4 39.8,47.5 40.5,46.0 41.2,44.5 42.0,43.2 42.8,41.9 43.5,40.7 44.2,39.6 45.0,38.5 45.8,37.5 46.5,36.5 47.2,35.5 48.0,34.4 48.8,33.3 49.5,32.1 50.2,31.0 51.0,30.2 51.8,29.7 52.5,29.7 53.2,29.9 54.0,30.1 54.8,30.4 55.5,30.9 56.2,32.4 57.0,34.5 57.8,37.1 58.5,40.0 59.2,43.1 60.0,46.0 60.8,49.1 61.5,52.5 62.2,56.1 63.0,60.0 63.8,63.9 64.5,67.7 65.2,71.4 66.0,75.3 66.8,79.2 67.5,82.9 68.2,86.4 69.0,89.9 69.8,93.4 70.5,96.5 71.2,98.9 72.0,100.5 72.8,101.7 73.5,102.8 74.2,103.7 75.0,104.6 75.8,105.4 76.5,106.1 77.2,106.8 78.0,107.5 78.8,108.2 79.5,108.9 80.2,109.6 81.0,110.3 81.8,110.8 82.5,111.3 83.2,111.6 84.0,111.9 84.8,112.2 85.5,112.5 86.2,112.9 87.0,113.5 87.8,114.3 88.5,115.2 89.2,116.2 90.0,117.4 90.8,118.6 91.5,120.0 92.2,121.3 93.0,122.8 93.8,124.5 94.5,126.4 95.2,128.5 96.0,130.8 96.8,133.2 97.5,135.6 98.2,138.0 99.0,140.4 99.8,142.9 100.5,145.5 101.2,148.2 102.0,150.7 102.8,153.1 103.5,155.6 104.2,158.2 105.0,160.6 105.8,163.1 106.5,165.5 107.2,167.8 108.0,169.9 108.8,172.0 109.5,173.9 110.2,175.5 111.0,177.2 111.8,178.8 112.5,180.3 113.2,181.8 114.0,183.2 114.8,184.6 115.5,185.9 116.2,187.1 117.0,188.3 117.8,189.3 118.5,190.3 119.2,191.2 120.0,192.0 120.8,192.7 121.5,193.5 122.2,194.2 123.0,194.9 123.8,195.6 124.5,196.3 125.2,197.0 126.0,197.6 126.8,198.1 127.5,198.7 128.2,199.1 129.0,199.5 129.8,199.8 130.5,200.1 131.2,200.2 132.0,200.3 132.8,200.3 133.5,200.1 134.2,199.9 135.0,199.6 135.8,199.2 136.5,198.7 137.2,198.2 138.0,197.7 138.8,197.2 139.5,196.6 140.2,196.1 141.0,195.6 141.8,194.9 142.5,194.3 143.2,193.5 144.0,192.8 144.8,192.0 145.5,191.1 146.2,190.2 147.0,189.4 147.8,188.4 148.5,187.5 149.2,186.6 150.0,185.7 150.8,184.8 151.5,183.9 152.2,183.0 153.0,182.1 153.8,181.3 154.5,180.5 155.2,179.8 156.0,179.0 156.8,178.2 157.5,177.4 158.2,176.6 159.0,175.7 159.8,174.9 160.5,174.1 161.2,173.3 162.0,172.5 162.8,171.8 163.5,171.0 164.2,170.4 165.0,169.7 165.8,169.2 166.5,168.7 167.2,168.2 168.0,167.8 168.8,167.5 169.5,167.3 170.2,167.0 171.0,166.8 171.8,166.6 172.5,166.4 173.2,166.1 174.0,165.9 174.8,165.7 175.5,165.6 176.2,165.4 177.0,165.2 177.8,165.0 178.5,164.9 179.2,164.7 180.0,164.6 180.8,164.4 181.5,164.3 182.2,164.2 183.0,164.1 183.8,164.0 184.5,163.8 185.2,163.7 186.0,163.6 186.8,163.6 187.5,163.5 188.2,163.4 189.0,163.3 189.8,163.2 190.5,163.2 191.2,163.1 192.0,163.0 192.8,163.0 193.5,163.0 194.2,162.9 195.0,162.9 195.8,162.8 196.5,162.8 197.2,162.8 198.0,162.7 198.8,162.7 199.5,162.6 200.2,162.5 201.0,162.4 201.8,162.2 202.5,162.0 203.2,161.6 204.0,161.3 204.8,160.9 205.5,160.5 206.2,160.0 207.0,159.6 207.8,159.1 208.5,158.7 209.2,158.3 210.0,157.9 210.8,157.6 211.5,157.3 212.2,157.1 213.0,157.0 213.8,157.0 214.5,157.1 215.2,157.2 216.0,157.5 216.8,157.8 217.5,158.2 218.2,158.6 219.0,159.1 219.8,159.6 220.5,160.2 221.2,160.8 222.0,161.4 222.8,162.0 223.5,162.6 224.2,163.2 225.0,163.9 225.8,164.7 226.5,165.6 227.2,166.5 228.0,167.5 228.8,168.6 229.5,169.7 230.2,170.8 231.0,171.9 231.8,172.9 232.5,174.0 233.2,175.0 234.0,175.9 234.8,176.7 235.5,177.5 236.2,178.2 237.0,178.9 237.8,179.6 238.5,180.2 239.2,180.8 240.0,181.4 240.8,182.0 241.5,182.6 242.2,183.2 243.0,183.8 243.8,184.5 244.5,185.1 245.2,185.8 246.0,186.5 246.8,187.2 247.5,188.0 248.2,188.7 249.0,189.5 249.8,190.3 250.5,191.1 251.2,191.9 252.0,192.8 252.8,193.7 253.5,194.6 254.2,195.6 255.0,196.7 255.8,197.8 256.5,199.0 257.2,200.2 258.0,201.4 258.8,202.6 259.5,203.8 260.2,204.9 261.0,205.9 261.8,206.9 262.5,207.8 263.2,208.6 264.0,209.4 264.8,210.2 265.5,210.9 266.2,211.7 267.0,212.4 267.8,213.0 268.5,213.7 269.2,214.4 270.0,215.0 270.8,215.6 271.5,216.3 272.2,216.9 273.0,217.6 273.8,218.2 274.5,218.8 275.2,219.4 276.0,220.0 276.8,220.5 277.5,221.1 278.2,221.6 279.0,222.0 279.8,222.5 280.5,222.9 281.2,223.3 282.0,223.7 282.8,224.1 283.5,224.4 284.2,224.8 285.0,225.2 285.8,225.6 286.5,225.9 287.2,226.2 288.0,226.6 288.8,226.9 289.5,227.2 290.2,227.4 291.0,227.7 291.8,227.9 292.5,228.1 293.2,228.3 294.0,228.5 294.8,228.7 295.5,228.8 296.2,228.9 297.0,229.0 297.8,229.1 298.5,229.3 299.2,229.4 300.0,229.5 300.8,229.6 301.5,229.7 302.2,229.8 303.0,229.8 303.8,229.9 304.5,230.0 305.2,230.1 306.0,230.1 306.8,230.2 307.5,230.2 308.2,230.2 309.0,230.3 309.8,230.3 310.5,230.3 311.2,230.3 312.0,230.3 312.8,230.3 313.5,230.4 314.2,230.4 315.0,230.4 315.8,230.4 316.5,230.4 317.2,230.4 318.0,230.4 318.8,230.4 319.5,230.4 320.2,230.4 321.0,230.4 321.8,230.4 322.5,230.5 323.2,230.5 324.0,230.5 324.8,230.5 325.5,230.5 326.2,230.5 327.0,230.5 327.8,230.5 328.5,230.5 329.2,230.5 330.0,230.5 330.8,230.5 331.5,230.5 332.2,230.5 333.0,230.5 333.8,230.5" stroke="#ff8020"/><path d="M34.5,63.0 35.2,60.9 36.0,59.0 36.8,57.0 37.5,55.2 38.2,53.5 39.0,51.9 39.8,50.5 40.5,49.1 41.2,48.0 42.0,47.0 42.8,46.1 43.5,45.2 44.2,44.3 45.0,43.5 45.8,42.8 46.5,42.1 47.2,41.5 48.0,41.1 48.8,40.8 49.5,40.7 50.2,40.7 51.0,40.9 51.8,41.1 52.5,41.5 53.2,41.8 54.0,42.3 54.8,42.8 55.5,43.5 56.2,44.7 57.0,46.3 57.8,48.3 58.5,50.4 59.2,52.7 60.0,55.0 60.8,57.4 61.5,60.2 62.2,63.2 63.0,66.3 63.8,69.6 64.5,72.9 65.2,76.1 66.0,79.5 66.8,83.2 67.5,86.9 68.2,90.6 69.0,94.1 69.8,97.2 70.5,100.0 71.2,102.4 72.0,104.7 72.8,106.9 73.5,109.0 74.2,111.0 75.0,112.9 75.8,114.7 76.5,116.5 77.2,118.2 78.0,119.9 78.8,121.5 79.5,123.1 80.2,124.7 81.0,126.3 81.8,127.9 82.5,129.5 83.2,131.0 84.0,132.4 84.8,133.8 85.5,135.1 86.2,136.5 87.0,137.8 87.8,139.1 88.5,140.4 89.2,141.7 90.0,143.1 90.8,144.5 91.5,145.9 92.2,147.4 93.0,148.9 93.8,150.6 94.5,152.3 95.2,154.2 96.0,156.1 96.8,158.1 97.5,160.2 98.2,162.3 99.0,164.5 99.8,166.6 100.5,168.7 101.2,170.8 102.0,172.8 102.8,174.8 103.5,176.7 104.2,178.4 105.0,180.0 105.8,181.5 106.5,183.1 107.2,184.6 108.0,186.1 108.8,187.6 109.5,189.0 110.2,190.3 111.0,191.6 111.8,192.8 112.5,194.0 113.2,195.0 114.0,195.9 114.8,196.8 115.5,197.5 116.2,198.2 117.0,198.9 117.8,199.6 118.5,200.2 119.2,200.9 120.0,201.5 120.8,202.1 121.5,202.6 122.2,203.1 123.0,203.6 123.8,204.0 124.5,204.3 125.2,204.6 126.0,204.8 126.8,204.9 127.5,205.0 128.2,205.0 129.0,204.9 129.8,204.8 130.5,204.6 131.2,204.4 132.0,204.1 132.8,203.8 133.5,203.5 134.2,203.2 135.0,202.8 135.8,202.4 136.5,202.0 137.2,201.6 138.0,201.1 138.8,200.7 139.5,200.3 140.2,199.9 141.0,199.4 141.8,198.8 142.5,198.2 143.2,197.5 144.0,196.8 144.8,196.1 145.5,195.3 146.2,194.5 147.0,193.7 147.8,192.8 148.5,191.9 149.2,191.1 150.0,190.2 150.8,189.4 151.5,188.5 152.2,187.7 153.0,186.9 153.8,186.2 154.5,185.5 155.2,184.8 156.0,184.1 156.8,183.4 157.5,182.7 158.2,182.0 159.0,181.4 159.8,180.7 160.5,180.0 161.2,179.3 162.0,178.7 162.8,178.1 163.5,177.5 164.2,176.9 165.0,176.3 165.8,175.8 166.5,175.3 167.2,174.9 168.0,174.5 168.8,174.1 169.5,173.8 170.2,173.5 171.0,173.1 171.8,172.8 172.5,172.5 173.2,172.2 174.0,171.9 174.8,171.7 175.5,171.4 176.2,171.1 177.0,170.9 177.8,170.7 178.5,170.4 179.2,170.2 180.0,170.0 180.8,169.8 181.5,169.7 182.2,169.5 183.0,169.4 183.8,169.3 184.5,169.2 185.2,169.1 186.0,169.0 186.8,168.9 187.5,168.9 188.2,168.8 189.0,168.8 189.8,168.7 190.5,168.7 191.2,168.6 192.0,168.6 192.8,168.6 193.5,168.5 194.2,168.5 195.0,168.5 195.8,168.4 196.5,168.4 197.2,168.3 198.0,168.2 198.8,168.2 199.5,168.1 200.2,168.0 201.0,167.9 201.8,167.7 202.5,167.4 203.2,167.1 204.0,166.8 204.8,166.4 205.5,165.9 206.2,165.5 207.0,165.0 207.8,164.6 208.5,164.2 209.2,163.8 210.0,163.4 210.8,163.1 211.5,162.8 212.2,162.6 213.0,162.5 213.8,162.5 214.5,162.6 215.2,162.8 216.0,163.0 216.8,163.4 217.5,163.8 218.2,164.3 219.0,164.9 219.8,165.5 220.5,166.1 221.2,166.7 222.0,167.3 222.8,168.0 223.5,168.6 224.2,169.2 225.0,169.9 225.8,170.6 226.5,171.4 227.2,172.2 228.0,173.0 228.8,173.9 229.5,174.8 230.2,175.7 231.0,176.6 231.8,177.5 232.5,178.4 233.2,179.2 234.0,180.0 234.8,180.8 235.5,181.5 236.2,182.1 237.0,182.7 237.8,183.3 238.5,183.9 239.2,184.4 240.0,185.0 240.8,185.5 241.5,186.1 242.2,186.7 243.0,187.3 243.8,188.0 244.5,188.7 245.2,189.5 246.0,190.3 246.8,191.1 247.5,192.0 248.2,192.9 249.0,193.8 249.8,194.7 250.5,195.6 251.2,196.4 252.0,197.3 252.8,198.1 253.5,199.0 254.2,199.8 255.0,200.6 255.8,201.5 256.5,202.3 257.2,203.2 258.0,204.0 258.8,204.8 259.5,205.6 260.2,206.4 261.0,207.2 261.8,208.0 262.5,208.7 263.2,209.4 264.0,210.1 264.8,210.9 265.5,211.6 266.2,212.2 267.0,212.9 267.8,213.6 268.5,214.2 269.2,214.9 270.0,215.5 270.8,216.1 271.5,216.8 272.2,217.4 273.0,218.0 273.8,218.6 274.5,219.2 275.2,219.8 276.0,220.4 276.8,221.0 277.5,221.5 278.2,222.0 279.0,222.4 279.8,222.9 280.5,223.3 281.2,223.6 282.0,224.0 282.8,224.4 283.5,224.8 284.2,225.1 285.0,225.5 285.8,225.8 286.5,226.1 287.2,226.5 288.0,226.8 288.8,227.1 289.5,227.3 290.2,227.6 291.0,227.8 291.8,228.1 292.5,228.3 293.2,228.4 294.0,228.6 294.8,228.8 295.5,228.9 296.2,229.0 297.0,229.1 297.8,229.2 298.5,229.4 299.2,229.5 300.0,229.6 300.8,229.7 301.5,229.8 302.2,229.9 303.0,229.9 303.8,230.0 304.5,230.1 305.2,230.2 306.0,230.2 306.8,230.3 307.5,230.3 308.2,230.3 309.0,230.4 309.8,230.4 310.5,230.4 311.2,230.4 312.0,230.4 312.8,230.4 313.5,230.5 314.2,230.5 315.0,230.5 315.8,230.5 316.5,230.5 317.2,230.5 318.0,230.5 318.8,230.5 319.5,230.5 320.2,230.5 321.0,230.5 321.8,230.5 322.5,230.6 323.2,230.6 324.0,230.6 324.8,230.6 325.5,230.6 326.2,230.6 327.0,230.6 327.8,230.6 328.5,230.6 329.2,230.6 330.0,230.6 330.8,230.6 331.5,230.6 332.2,230.6 333.0,230.6 333.8,230.6" stroke="#ff33b0"/><path d="M34.5,91.0 35.2,88.8 36.0,86.6 36.8,84.6 37.5,82.7 38.2,81.1 39.0,79.6 39.8,78.4 40.5,77.2 41.2,76.1 42.0,75.1 42.8,74.1 43.5,73.2 44.2,72.4 45.0,71.5 45.8,70.7 46.5,69.8 47.2,69.0 48.0,68.8 48.8,69.0 49.5,69.3 50.2,69.7 51.0,70.6 51.8,72.1 52.5,74.0 53.2,76.1 54.0,78.3 54.8,80.8 55.5,83.8 56.2,87.1 57.0,90.0 57.8,92.3 58.5,94.4 59.2,96.5 60.0,98.7 60.8,101.3 61.5,104.3 62.2,107.6 63.0,111.1 63.8,114.7 64.5,118.3 65.2,121.8 66.0,125.0 66.8,128.1 67.5,131.2 68.2,134.2 69.0,137.1 69.8,139.8 70.5,142.4 71.2,144.8 72.0,147.2 72.8,149.5 73.5,151.6 74.2,153.6 75.0,155.2 75.8,156.4 76.5,157.4 77.2,158.3 78.0,159.2 78.8,160.0 79.5,160.7 80.2,161.4 81.0,162.0 81.8,162.6 82.5,163.2 83.2,163.8 84.0,164.3 84.8,164.8 85.5,165.4 86.2,165.9 87.0,166.3 87.8,166.8 88.5,167.2 89.2,167.6 90.0,168.0 90.8,168.3 91.5,168.7 92.2,169.1 93.0,169.5 93.8,169.9 94.5,170.3 95.2,170.7 96.0,171.2 96.8,171.6 97.5,172.1 98.2,172.7 99.0,173.3 99.8,173.9 100.5,174.6 101.2,175.3 102.0,176.0 102.8,176.7 103.5,177.4 104.2,178.0 105.0,178.6 105.8,179.2 106.5,179.7 107.2,180.3 108.0,180.9 108.8,181.5 109.5,182.0 110.2,182.5 111.0,183.0 111.8,183.3 112.5,183.6 113.2,183.8 114.0,183.8 114.8,183.8 115.5,183.7 116.2,183.6 117.0,183.5 117.8,183.4 118.5,183.3 119.2,183.1 120.0,182.9 120.8,182.7 121.5,182.5 122.2,182.3 123.0,182.1 123.8,181.9 124.5,181.7 125.2,181.5 126.0,181.4 126.8,181.2 127.5,181.0 128.2,180.9 129.0,180.7 129.8,180.5 130.5,180.3 131.2,180.1 132.0,179.9 132.8,179.7 133.5,179.6 134.2,179.4 135.0,179.3 135.8,179.2 136.5,179.2 137.2,179.2 138.0,179.2 138.8,179.3 139.5,179.3 140.2,179.4 141.0,179.5 141.8,179.6 142.5,179.7 143.2,179.8 144.0,180.0 144.8,180.1 145.5,180.2 146.2,180.4 147.0,180.5 147.8,180.6 148.5,180.8 149.2,180.9 150.0,181.0 150.8,181.1 151.5,181.2 152.2,181.3 153.0,181.4 153.8,181.6 154.5,181.7 155.2,181.8 156.0,181.9 156.8,182.0 157.5,182.2 158.2,182.3 159.0,182.4 159.8,182.6 160.5,182.7 161.2,182.8 162.0,183.0 162.8,183.2 163.5,183.4 164.2,183.6 165.0,183.9 165.8,184.1 166.5,184.4 167.2,184.7 168.0,185.0 168.8,185.2 169.5,185.4 170.2,185.6 171.0,185.8 171.8,185.9 172.5,186.0 173.2,186.0 174.0,186.0 174.8,185.9 175.5,185.9 176.2,185.8 177.0,185.7 177.8,185.5 178.5,185.4 179.2,185.3 180.0,185.1 180.8,184.9 181.5,184.8 182.2,184.6 183.0,184.4 183.8,184.3 184.5,184.1 185.2,183.9 186.0,183.8 186.8,183.6 187.5,183.4 188.2,183.2 189.0,183.1 189.8,182.9 190.5,182.6 191.2,182.4 192.0,182.2 192.8,182.0 193.5,181.8 194.2,181.6 195.0,181.4 195.8,181.1 196.5,180.9 197.2,180.7 198.0,180.5 198.8,180.3 199.5,180.1 200.2,179.9 201.0,179.7 201.8,179.5 202.5,179.3 203.2,179.1 204.0,178.9 204.8,178.6 205.5,178.4 206.2,178.2 207.0,178.0 207.8,177.8 208.5,177.6 209.2,177.4 210.0,177.3 210.8,177.1 211.5,177.0 212.2,177.0 213.0,176.9 213.8,176.9 214.5,176.9 215.2,177.0 216.0,177.1 216.8,177.2 217.5,177.4 218.2,177.6 219.0,177.8 219.8,178.0 220.5,178.3 221.2,178.6 222.0,178.8 222.8,179.1 223.5,179.4 224.2,179.7 225.0,180.0 225.8,180.3 226.5,180.7 227.2,181.1 228.0,181.6 228.8,182.1 229.5,182.7 230.2,183.2 231.0,183.8 231.8,184.4 232.5,185.0 233.2,185.6 234.0,186.2 234.8,186.8 235.5,187.3 236.2,187.9 237.0,188.4 237.8,188.9 238.5,189.4 239.2,189.9 240.0,190.5 240.8,191.0 241.5,191.5 242.2,192.0 243.0,192.6 243.8,193.1 244.5,193.6 245.2,194.2 246.0,194.8 246.8,195.4 247.5,196.0 248.2,196.7 249.0,197.3 249.8,198.0 250.5,198.7 251.2,199.4 252.0,200.0 252.8,200.7 253.5,201.4 254.2,202.1 255.0,202.7 255.8,203.4 256.5,204.1 257.2,204.8 258.0,205.5 258.8,206.2 259.5,206.9 260.2,207.5 261.0,208.2 261.8,208.8 262.5,209.4 263.2,210.0 264.0,210.6 264.8,211.1 265.5,211.6 266.2,212.2 267.0,212.7 267.8,213.2 268.5,213.7 269.2,214.2 270.0,214.7 270.8,215.2 271.5,215.8 272.2,216.3 273.0,216.9 273.8,217.6 274.5,218.2 275.2,218.8 276.0,219.5 276.8,220.1 277.5,220.7 278.2,221.3 279.0,221.8 279.8,222.3 280.5,222.8 281.2,223.3 282.0,223.7 282.8,224.2 283.5,224.7 284.2,225.1 285.0,225.6 285.8,226.0 286.5,226.5 287.2,226.9 288.0,227.3 288.8,227.7 289.5,228.0 290.2,228.4 291.0,228.7 291.8,228.9 292.5,229.2 293.2,229.4 294.0,229.6 294.8,229.8 295.5,229.9 296.2,230.0 297.0,230.1 297.8,230.2 298.5,230.3 299.2,230.4 300.0,230.5 300.8,230.6 301.5,230.7 302.2,230.7 303.0,230.8 303.8,230.9 304.5,230.9 305.2,231.0 306.0,231.0 306.8,231.1 307.5,231.1 308.2,231.1 309.0,231.2 309.8,231.2 310.5,231.2 311.2,231.2 312.0,231.2 312.8,231.3 313.5,231.3 314.2,231.3 315.0,231.3 315.8,231.3 316.5,231.3 317.2,231.3 318.0,231.4 318.8,231.4 319.5,231.4 320.2,231.4 321.0,231.4 321.8,231.4 322.5,231.4 323.2,231.4 324.0,231.4 324.8,231.5 325.5,231.5 326.2,231.5 327.0,231.5 327.8,231.5 328.5,231.5 329.2,231.5 330.0,231.5 330.8,231.5 331.5,231.5 332.2,231.5 333.0,231.5 333.8,231.5" stroke="#14e014"/></g>
<g clip-path="url(#cb)" fill="none" stroke-width="1.8" stroke-linejoin="round"><path d="M404.0,227.2 404.9,226.7 405.7,226.1 406.6,225.5 407.5,224.9 408.4,224.2 409.2,223.5 410.1,222.7 411.0,221.9 411.9,221.0 412.7,220.1 413.6,219.1 414.5,218.1 415.4,217.0 416.2,215.9 417.1,214.7 418.0,213.4 418.9,212.1 419.7,210.8 420.6,209.4 421.5,207.9 422.4,206.4 423.2,204.8 424.1,203.2 425.0,201.5 425.9,199.7 426.7,197.8 427.6,195.8 428.5,193.8 429.4,191.7 430.2,189.6 431.1,187.5 432.0,185.3 432.9,183.0 433.7,180.8 434.6,178.5 435.5,176.2 436.4,173.9 437.2,171.5 438.1,169.1 439.0,166.8 439.9,164.4 440.7,162.0 441.6,159.6 442.5,157.3 443.3,154.9 444.2,152.5 445.1,150.2 446.0,147.9 446.8,145.6 447.7,143.4 448.6,141.3 449.5,139.3 450.3,137.2 451.2,135.2 452.1,133.2 453.0,131.2 453.8,129.3 454.7,127.4 455.6,125.6 456.5,123.8 457.3,122.0 458.2,120.3 459.1,118.7 460.0,117.1 460.8,115.6 461.7,114.1 462.6,112.7 463.5,111.4 464.3,110.1 465.2,108.9 466.1,107.7 467.0,106.6 467.8,105.6 468.7,104.7 469.6,103.8 470.5,103.0 471.3,102.3 472.2,101.6 473.1,101.0 474.0,100.5 474.8,100.0 475.7,99.7 476.6,99.4 477.4,99.1 478.3,99.0 479.2,98.9 480.1,98.9 480.9,98.9 481.8,99.0 482.7,99.2 483.6,99.4 484.4,99.7 485.3,100.1 486.2,100.5 487.1,100.9 487.9,101.4 488.8,101.9 489.7,102.5 490.6,103.2 491.4,103.9 492.3,104.6 493.2,105.4 494.1,106.2 494.9,107.1 495.8,108.0 496.7,108.9 497.6,109.8 498.4,110.8 499.3,111.8 500.2,112.9 501.1,113.9 501.9,115.0 502.8,116.1 503.7,117.3 504.6,118.4 505.4,119.6 506.3,120.8 507.2,122.0 508.1,123.2 508.9,124.4 509.8,125.7 510.7,126.9 511.6,128.2 512.4,129.5 513.3,130.8 514.2,132.1 515.0,133.4 515.9,134.7 516.8,136.0 517.7,137.3 518.5,138.6 519.4,139.9 520.3,141.2 521.2,142.5 522.0,143.8 522.9,145.2 523.8,146.5 524.7,147.7 525.5,149.0 526.4,150.3 527.3,151.6 528.2,152.9 529.0,154.1 529.9,155.4 530.8,156.7 531.7,157.9 532.5,159.1 533.4,160.3 534.3,161.6 535.2,162.7 536.0,163.8 536.9,164.9 537.8,166.0 538.7,167.1 539.5,168.2 540.4,169.2 541.3,170.3 542.2,171.3 543.0,172.3 543.9,173.4 544.8,174.3 545.7,175.3 546.5,176.3 547.4,177.3 548.3,178.2 549.2,179.1 550.0,180.0 550.9,180.9 551.8,181.8 552.6,182.7 553.5,183.6 554.4,184.4 555.3,185.3 556.1,186.1 557.0,186.9 557.9,187.7 558.8,188.5 559.6,189.3 560.5,190.0 561.4,190.8 562.3,191.5 563.1,192.2 564.0,192.9 564.9,193.7 565.8,194.3 566.6,195.0 567.5,195.7 568.4,196.3 569.3,197.0 570.1,197.6 571.0,198.2 571.9,198.9 572.8,199.5 573.6,200.1 574.5,200.6 575.4,201.2 576.3,201.8 577.1,202.3 578.0,202.8 578.9,203.3 579.8,203.9 580.6,204.4 581.5,204.8 582.4,205.3 583.3,205.8 584.1,206.3 585.0,206.7 585.9,207.2 586.7,207.6 587.6,208.0 588.5,208.5 589.4,208.9 590.2,209.3 591.1,209.7 592.0,210.1 592.9,210.5 593.7,210.9 594.6,211.2 595.5,211.6 596.4,212.0 597.2,212.3 598.1,212.7 599.0,213.0 599.9,213.3 600.7,213.7 601.6,214.0 602.5,214.3 603.4,214.6 604.2,214.9 605.1,215.2 606.0,215.5 606.9,215.8 607.7,216.1 608.6,216.4 609.5,216.6 610.4,216.9 611.2,217.2 612.1,217.4 613.0,217.7 613.9,217.9 614.7,218.2 615.6,218.4 616.5,218.7 617.4,218.9 618.2,219.1 619.1,219.3 620.0,219.6 620.9,219.8 621.7,220.0 622.6,220.2 623.5,220.4 624.3,220.6 625.2,220.8 626.1,221.0 627.0,221.2 627.8,221.4 628.7,221.5 629.6,221.7 630.5,221.9 631.3,222.1 632.2,222.2 633.1,222.4 634.0,222.6 634.8,222.7 635.7,222.9 636.6,223.1 637.5,223.3 638.3,223.4 639.2,223.6 640.1,223.8 641.0,223.9 641.8,224.1 642.7,224.2 643.6,224.4 644.5,224.5 645.3,224.7 646.2,224.8 647.1,225.0 648.0,225.1 648.8,225.3 649.7,225.4 650.6,225.5 651.5,225.7 652.3,225.8 653.2,225.9 654.1,226.0 655.0,226.1 655.8,226.3 656.7,226.4 657.6,226.5 658.5,226.6 659.3,226.7 660.2,226.8 661.1,226.9 661.9,227.0 662.8,227.1 663.7,227.2 664.6,227.3 665.4,227.4 666.3,227.5 667.2,227.6 668.1,227.7 668.9,227.8 669.8,227.9 670.7,228.0 671.6,228.0 672.4,228.1 673.3,228.2 674.2,228.3 675.1,228.4 675.9,228.4 676.8,228.5 677.7,228.6 678.6,228.6 679.4,228.7 680.3,228.8 681.2,228.9 682.1,228.9 682.9,229.0 683.8,229.1 684.7,229.1 685.6,229.2 686.4,229.2 687.3,229.3 688.2,229.4 689.1,229.4 689.9,229.5 690.8,229.5 691.7,229.6 692.6,229.6 693.4,229.7 694.3,229.7 695.2,229.8 696.0,229.8 696.9,229.9 697.8,229.9 698.7,230.0" stroke="#000000"/><path d="M404.0,230.9 404.9,230.7 405.7,230.5 406.6,230.3 407.5,230.0 408.4,229.8 409.2,229.5 410.1,229.2 411.0,228.9 411.9,228.5 412.7,228.1 413.6,227.7 414.5,227.3 415.4,226.8 416.2,226.3 417.1,225.8 418.0,225.2 418.9,224.7 419.7,224.0 420.6,223.4 421.5,222.7 422.4,222.0 423.2,221.3 424.1,220.5 425.0,219.6 425.9,218.8 426.7,217.9 427.6,217.0 428.5,216.0 429.4,215.0 430.2,214.0 431.1,212.9 432.0,211.8 432.9,210.6 433.7,209.3 434.6,208.0 435.5,206.7 436.4,205.4 437.2,204.0 438.1,202.6 439.0,201.2 439.9,199.8 440.7,198.4 441.6,196.9 442.5,195.4 443.3,193.9 444.2,192.4 445.1,190.9 446.0,189.4 446.8,187.9 447.7,186.4 448.6,184.9 449.5,183.4 450.3,181.9 451.2,180.5 452.1,179.0 453.0,177.5 453.8,176.2 454.7,174.8 455.6,173.5 456.5,172.2 457.3,170.9 458.2,169.7 459.1,168.4 460.0,167.2 460.8,166.0 461.7,164.9 462.6,163.7 463.5,162.6 464.3,161.5 465.2,160.5 466.1,159.5 467.0,158.5 467.8,157.6 468.7,156.7 469.6,155.9 470.5,155.1 471.3,154.3 472.2,153.6 473.1,152.9 474.0,152.2 474.8,151.6 475.7,151.1 476.6,150.6 477.4,150.1 478.3,149.7 479.2,149.3 480.1,149.0 480.9,148.7 481.8,148.5 482.7,148.3 483.6,148.1 484.4,148.0 485.3,148.0 486.2,148.0 487.1,148.0 487.9,148.1 488.8,148.2 489.7,148.4 490.6,148.6 491.4,148.8 492.3,149.1 493.2,149.4 494.1,149.7 494.9,150.1 495.8,150.5 496.7,151.0 497.6,151.5 498.4,152.0 499.3,152.5 500.2,153.1 501.1,153.7 501.9,154.3 502.8,154.9 503.7,155.6 504.6,156.3 505.4,157.0 506.3,157.7 507.2,158.4 508.1,159.2 508.9,159.9 509.8,160.7 510.7,161.5 511.6,162.3 512.4,163.1 513.3,163.9 514.2,164.8 515.0,165.6 515.9,166.5 516.8,167.3 517.7,168.2 518.5,169.1 519.4,169.9 520.3,170.8 521.2,171.7 522.0,172.6 522.9,173.5 523.8,174.3 524.7,175.2 525.5,176.1 526.4,177.0 527.3,177.9 528.2,178.7 529.0,179.6 529.9,180.5 530.8,181.3 531.7,182.2 532.5,183.1 533.4,183.9 534.3,184.8 535.2,185.6 536.0,186.4 536.9,187.2 537.8,188.1 538.7,188.9 539.5,189.7 540.4,190.5 541.3,191.2 542.2,191.9 543.0,192.7 543.9,193.4 544.8,194.1 545.7,194.8 546.5,195.5 547.4,196.1 548.3,196.8 549.2,197.5 550.0,198.1 550.9,198.7 551.8,199.4 552.6,200.0 553.5,200.6 554.4,201.2 555.3,201.8 556.1,202.4 557.0,202.9 557.9,203.5 558.8,204.1 559.6,204.6 560.5,205.1 561.4,205.7 562.3,206.2 563.1,206.7 564.0,207.2 564.9,207.7 565.8,208.2 566.6,208.6 567.5,209.1 568.4,209.6 569.3,210.0 570.1,210.4 571.0,210.9 571.9,211.3 572.8,211.7 573.6,212.1 574.5,212.5 575.4,212.9 576.3,213.3 577.1,213.7 578.0,214.1 578.9,214.4 579.8,214.8 580.6,215.1 581.5,215.5 582.4,215.8 583.3,216.1 584.1,216.4 585.0,216.8 585.9,217.1 586.7,217.4 587.6,217.7 588.5,217.9 589.4,218.2 590.2,218.5 591.1,218.8 592.0,219.0 592.9,219.3 593.7,219.5 594.6,219.8 595.5,220.0 596.4,220.3 597.2,220.5 598.1,220.7 599.0,221.0 599.9,221.2 600.7,221.4 601.6,221.6 602.5,221.8 603.4,222.0 604.2,222.2 605.1,222.4 606.0,222.6 606.9,222.8 607.7,223.0 608.6,223.2 609.5,223.3 610.4,223.5 611.2,223.7 612.1,223.8 613.0,224.0 613.9,224.2 614.7,224.3 615.6,224.5 616.5,224.6 617.4,224.8 618.2,224.9 619.1,225.1 620.0,225.2 620.9,225.3 621.7,225.5 622.6,225.6 623.5,225.7 624.3,225.9 625.2,226.0 626.1,226.1 627.0,226.2 627.8,226.3 628.7,226.4 629.6,226.6 630.5,226.7 631.3,226.8 632.2,226.9 633.1,227.0 634.0,227.1 634.8,227.2 635.7,227.3 636.6,227.4 637.5,227.5 638.3,227.6 639.2,227.6 640.1,227.7 641.0,227.8 641.8,227.9 642.7,228.0 643.6,228.1 644.5,228.2 645.3,228.3 646.2,228.4 647.1,228.5 648.0,228.5 648.8,228.6 649.7,228.7 650.6,228.8 651.5,228.9 652.3,228.9 653.2,229.0 654.1,229.1 655.0,229.2 655.8,229.2 656.7,229.3 657.6,229.4 658.5,229.4 659.3,229.5 660.2,229.5 661.1,229.6 661.9,229.7 662.8,229.7 663.7,229.8 664.6,229.8 665.4,229.9 666.3,230.0 667.2,230.0 668.1,230.1 668.9,230.1 669.8,230.2 670.7,230.2 671.6,230.3 672.4,230.3 673.3,230.3 674.2,230.4 675.1,230.4 675.9,230.5 676.8,230.5 677.7,230.6 678.6,230.6 679.4,230.6 680.3,230.7 681.2,230.7 682.1,230.8 682.9,230.8 683.8,230.8 684.7,230.9 685.6,230.9 686.4,230.9 687.3,231.0 688.2,231.0 689.1,231.0 689.9,231.1 690.8,231.1 691.7,231.1 692.6,231.1 693.4,231.2 694.3,231.2 695.2,231.2 696.0,231.2 696.9,231.3 697.8,231.3 698.7,231.3" stroke="#ff3030"/><path d="M404.0,231.1 404.9,230.9 405.7,230.8 406.6,230.6 407.5,230.4 408.4,230.2 409.2,229.9 410.1,229.6 411.0,229.4 411.9,229.1 412.7,228.7 413.6,228.4 414.5,228.0 415.4,227.6 416.2,227.2 417.1,226.7 418.0,226.2 418.9,225.7 419.7,225.2 420.6,224.7 421.5,224.1 422.4,223.4 423.2,222.8 424.1,222.1 425.0,221.4 425.9,220.7 426.7,219.9 427.6,219.1 428.5,218.3 429.4,217.4 430.2,216.5 431.1,215.6 432.0,214.6 432.9,213.6 433.7,212.5 434.6,211.4 435.5,210.2 436.4,209.1 437.2,207.9 438.1,206.7 439.0,205.5 439.9,204.3 440.7,203.0 441.6,201.7 442.5,200.5 443.3,199.2 444.2,197.9 445.1,196.6 446.0,195.3 446.8,194.0 447.7,192.7 448.6,191.4 449.5,190.1 450.3,188.8 451.2,187.5 452.1,186.3 453.0,185.0 453.8,183.8 454.7,182.7 455.6,181.6 456.5,180.4 457.3,179.3 458.2,178.2 459.1,177.2 460.0,176.1 460.8,175.1 461.7,174.1 462.6,173.1 463.5,172.1 464.3,171.2 465.2,170.3 466.1,169.4 467.0,168.6 467.8,167.8 468.7,167.0 469.6,166.3 470.5,165.6 471.3,164.9 472.2,164.3 473.1,163.7 474.0,163.2 474.8,162.6 475.7,162.2 476.6,161.7 477.4,161.3 478.3,161.0 479.2,160.6 480.1,160.4 480.9,160.1 481.8,159.9 482.7,159.7 483.6,159.6 484.4,159.5 485.3,159.5 486.2,159.5 487.1,159.5 487.9,159.6 488.8,159.7 489.7,159.8 490.6,160.0 491.4,160.2 492.3,160.4 493.2,160.7 494.1,161.0 494.9,161.3 495.8,161.7 496.7,162.1 497.6,162.5 498.4,162.9 499.3,163.4 500.2,163.9 501.1,164.4 501.9,164.9 502.8,165.5 503.7,166.0 504.6,166.6 505.4,167.2 506.3,167.9 507.2,168.5 508.1,169.1 508.9,169.8 509.8,170.5 510.7,171.2 511.6,171.9 512.4,172.6 513.3,173.3 514.2,174.0 515.0,174.7 515.9,175.5 516.8,176.2 517.7,176.9 518.5,177.7 519.4,178.4 520.3,179.2 521.2,180.0 522.0,180.7 522.9,181.5 523.8,182.3 524.7,183.0 525.5,183.8 526.4,184.5 527.3,185.3 528.2,186.1 529.0,186.8 529.9,187.6 530.8,188.3 531.7,189.1 532.5,189.8 533.4,190.5 534.3,191.3 535.2,192.0 536.0,192.7 536.9,193.4 537.8,194.1 538.7,194.8 539.5,195.5 540.4,196.2 541.3,196.8 542.2,197.5 543.0,198.1 543.9,198.7 544.8,199.3 545.7,199.9 546.5,200.5 547.4,201.1 548.3,201.7 549.2,202.2 550.0,202.8 550.9,203.3 551.8,203.9 552.6,204.4 553.5,205.0 554.4,205.5 555.3,206.0 556.1,206.5 557.0,207.0 557.9,207.5 558.8,207.9 559.6,208.4 560.5,208.9 561.4,209.3 562.3,209.8 563.1,210.2 564.0,210.6 564.9,211.1 565.8,211.5 566.6,211.9 567.5,212.3 568.4,212.7 569.3,213.1 570.1,213.5 571.0,213.8 571.9,214.2 572.8,214.6 573.6,214.9 574.5,215.3 575.4,215.6 576.3,215.9 577.1,216.3 578.0,216.6 578.9,216.9 579.8,217.2 580.6,217.5 581.5,217.8 582.4,218.1 583.3,218.4 584.1,218.6 585.0,218.9 585.9,219.2 586.7,219.4 587.6,219.7 588.5,219.9 589.4,220.2 590.2,220.4 591.1,220.6 592.0,220.9 592.9,221.1 593.7,221.3 594.6,221.5 595.5,221.7 596.4,221.9 597.2,222.2 598.1,222.3 599.0,222.5 599.9,222.7 600.7,222.9 601.6,223.1 602.5,223.3 603.4,223.5 604.2,223.6 605.1,223.8 606.0,224.0 606.9,224.1 607.7,224.3 608.6,224.4 609.5,224.6 610.4,224.7 611.2,224.9 612.1,225.0 613.0,225.2 613.9,225.3 614.7,225.4 615.6,225.6 616.5,225.7 617.4,225.8 618.2,226.0 619.1,226.1 620.0,226.2 620.9,226.3 621.7,226.4 622.6,226.6 623.5,226.7 624.3,226.8 625.2,226.9 626.1,227.0 627.0,227.1 627.8,227.2 628.7,227.3 629.6,227.4 630.5,227.5 631.3,227.6 632.2,227.7 633.1,227.7 634.0,227.8 634.8,227.9 635.7,228.0 636.6,228.1 637.5,228.2 638.3,228.2 639.2,228.3 640.1,228.4 641.0,228.5 641.8,228.5 642.7,228.6 643.6,228.7 644.5,228.8 645.3,228.9 646.2,228.9 647.1,229.0 648.0,229.1 648.8,229.2 649.7,229.2 650.6,229.3 651.5,229.4 652.3,229.4 653.2,229.5 654.1,229.6 655.0,229.6 655.8,229.7 656.7,229.7 657.6,229.8 658.5,229.9 659.3,229.9 660.2,230.0 661.1,230.0 661.9,230.1 662.8,230.1 663.7,230.2 664.6,230.2 665.4,230.3 666.3,230.3 667.2,230.4 668.1,230.4 668.9,230.4 669.8,230.5 670.7,230.5 671.6,230.6 672.4,230.6 673.3,230.7 674.2,230.7 675.1,230.7 675.9,230.8 676.8,230.8 677.7,230.8 678.6,230.9 679.4,230.9 680.3,230.9 681.2,231.0 682.1,231.0 682.9,231.0 683.8,231.1 684.7,231.1 685.6,231.1 686.4,231.2 687.3,231.2 688.2,231.2 689.1,231.2 689.9,231.3 690.8,231.3 691.7,231.3 692.6,231.3 693.4,231.4 694.3,231.4 695.2,231.4 696.0,231.4 696.9,231.5 697.8,231.5 698.7,231.5" stroke="#3070e0"/><path d="M404.0,231.2 404.9,231.0 405.7,230.9 406.6,230.7 407.5,230.5 408.4,230.3 409.2,230.1 410.1,229.8 411.0,229.5 411.9,229.2 412.7,228.9 413.6,228.6 414.5,228.2 415.4,227.9 416.2,227.5 417.1,227.0 418.0,226.6 418.9,226.1 419.7,225.6 420.6,225.1 421.5,224.5 422.4,223.9 423.2,223.3 424.1,222.7 425.0,222.0 425.9,221.3 426.7,220.6 427.6,219.8 428.5,219.0 429.4,218.2 430.2,217.4 431.1,216.5 432.0,215.6 432.9,214.6 433.7,213.5 434.6,212.5 435.5,211.4 436.4,210.3 437.2,209.2 438.1,208.1 439.0,206.9 439.9,205.8 440.7,204.6 441.6,203.4 442.5,202.2 443.3,201.0 444.2,199.7 445.1,198.5 446.0,197.3 446.8,196.0 447.7,194.8 448.6,193.6 449.5,192.4 450.3,191.1 451.2,189.9 452.1,188.7 453.0,187.5 453.8,186.4 454.7,185.3 455.6,184.3 456.5,183.2 457.3,182.1 458.2,181.1 459.1,180.1 460.0,179.1 460.8,178.1 461.7,177.2 462.6,176.2 463.5,175.3 464.3,174.5 465.2,173.6 466.1,172.8 467.0,172.0 467.8,171.2 468.7,170.5 469.6,169.8 470.5,169.1 471.3,168.5 472.2,167.9 473.1,167.4 474.0,166.8 474.8,166.3 475.7,165.9 476.6,165.5 477.4,165.1 478.3,164.8 479.2,164.4 480.1,164.2 480.9,164.0 481.8,163.8 482.7,163.6 483.6,163.5 484.4,163.4 485.3,163.4 486.2,163.4 487.1,163.4 487.9,163.5 488.8,163.6 489.7,163.7 490.6,163.9 491.4,164.1 492.3,164.4 493.2,164.7 494.1,165.0 494.9,165.4 495.8,165.8 496.7,166.2 497.6,166.6 498.4,167.1 499.3,167.6 500.2,168.2 501.1,168.7 501.9,169.3 502.8,169.9 503.7,170.5 504.6,171.1 505.4,171.8 506.3,172.4 507.2,173.1 508.1,173.8 508.9,174.5 509.8,175.3 510.7,176.0 511.6,176.7 512.4,177.5 513.3,178.2 514.2,179.0 515.0,179.8 515.9,180.5 516.8,181.3 517.7,182.1 518.5,182.9 519.4,183.7 520.3,184.5 521.2,185.2 522.0,186.0 522.9,186.8 523.8,187.6 524.7,188.4 525.5,189.2 526.4,190.0 527.3,190.8 528.2,191.5 529.0,192.3 529.9,193.1 530.8,193.8 531.7,194.6 532.5,195.3 533.4,196.1 534.3,196.8 535.2,197.5 536.0,198.2 536.9,198.9 537.8,199.6 538.7,200.3 539.5,201.0 540.4,201.7 541.3,202.3 542.2,202.9 543.0,203.5 543.9,204.1 544.8,204.7 545.7,205.3 546.5,205.9 547.4,206.4 548.3,207.0 549.2,207.5 550.0,208.1 550.9,208.6 551.8,209.1 552.6,209.6 553.5,210.1 554.4,210.6 555.3,211.1 556.1,211.5 557.0,212.0 557.9,212.4 558.8,212.9 559.6,213.3 560.5,213.8 561.4,214.2 562.3,214.6 563.1,215.0 564.0,215.4 564.9,215.8 565.8,216.1 566.6,216.5 567.5,216.9 568.4,217.2 569.3,217.6 570.1,217.9 571.0,218.2 571.9,218.6 572.8,218.9 573.6,219.2 574.5,219.5 575.4,219.8 576.3,220.1 577.1,220.4 578.0,220.6 578.9,220.9 579.8,221.2 580.6,221.4 581.5,221.7 582.4,221.9 583.3,222.2 584.1,222.4 585.0,222.6 585.9,222.8 586.7,223.1 587.6,223.3 588.5,223.5 589.4,223.7 590.2,223.9 591.1,224.1 592.0,224.3 592.9,224.4 593.7,224.6 594.6,224.8 595.5,225.0 596.4,225.1 597.2,225.3 598.1,225.5 599.0,225.6 599.9,225.8 600.7,225.9 601.6,226.1 602.5,226.2 603.4,226.3 604.2,226.5 605.1,226.6 606.0,226.7 606.9,226.9 607.7,227.0 608.6,227.1 609.5,227.2 610.4,227.4 611.2,227.5 612.1,227.6 613.0,227.7 613.9,227.8 614.7,227.9 615.6,228.0 616.5,228.1 617.4,228.2 618.2,228.3 619.1,228.4 620.0,228.5 620.9,228.5 621.7,228.6 622.6,228.7 623.5,228.8 624.3,228.9 625.2,229.0 626.1,229.0 627.0,229.1 627.8,229.2 628.7,229.3 629.6,229.3 630.5,229.4 631.3,229.5 632.2,229.5 633.1,229.6 634.0,229.6 634.8,229.7 635.7,229.8 636.6,229.8 637.5,229.9 638.3,229.9 639.2,230.0 640.1,230.0 641.0,230.1 641.8,230.2 642.7,230.2 643.6,230.3 644.5,230.3 645.3,230.4 646.2,230.4 647.1,230.5 648.0,230.5 648.8,230.6 649.7,230.6 650.6,230.7 651.5,230.7 652.3,230.8 653.2,230.8 654.1,230.8 655.0,230.9 655.8,230.9 656.7,231.0 657.6,231.0 658.5,231.0 659.3,231.1 660.2,231.1 661.1,231.1 661.9,231.2 662.8,231.2 663.7,231.2 664.6,231.3 665.4,231.3 666.3,231.3 667.2,231.4 668.1,231.4 668.9,231.4 669.8,231.4 670.7,231.5 671.6,231.5 672.4,231.5 673.3,231.6 674.2,231.6 675.1,231.6 675.9,231.6 676.8,231.6 677.7,231.7 678.6,231.7 679.4,231.7 680.3,231.7 681.2,231.7 682.1,231.8 682.9,231.8 683.8,231.8 684.7,231.8 685.6,231.8 686.4,231.9 687.3,231.9 688.2,231.9 689.1,231.9 689.9,231.9 690.8,231.9 691.7,232.0 692.6,232.0 693.4,232.0 694.3,232.0 695.2,232.0 696.0,232.0 696.9,232.0 697.8,232.0 698.7,232.1" stroke="#208a90"/><path d="M404.0,231.3 404.9,231.1 405.7,231.0 406.6,230.8 407.5,230.7 408.4,230.5 409.2,230.2 410.1,230.0 411.0,229.7 411.9,229.4 412.7,229.1 413.6,228.8 414.5,228.4 415.4,228.1 416.2,227.7 417.1,227.2 418.0,226.8 418.9,226.3 419.7,225.7 420.6,225.2 421.5,224.6 422.4,224.0 423.2,223.4 424.1,222.7 425.0,222.0 425.9,221.2 426.7,220.4 427.6,219.6 428.5,218.8 429.4,217.9 430.2,217.0 431.1,216.1 432.0,215.1 432.9,214.1 433.7,213.0 434.6,211.8 435.5,210.6 436.4,209.4 437.2,208.2 438.1,206.9 439.0,205.6 439.9,204.2 440.7,202.9 441.6,201.5 442.5,200.1 443.3,198.7 444.2,197.3 445.1,195.9 446.0,194.4 446.8,193.0 447.7,191.5 448.6,190.0 449.5,188.6 450.3,187.1 451.2,185.7 452.1,184.2 453.0,182.8 453.8,181.4 454.7,179.9 455.6,178.6 456.5,177.3 457.3,176.0 458.2,174.7 459.1,173.5 460.0,172.2 460.8,171.0 461.7,169.8 462.6,168.7 463.5,167.5 464.3,166.4 465.2,165.3 466.1,164.3 467.0,163.2 467.8,162.2 468.7,161.3 469.6,160.4 470.5,159.5 471.3,158.6 472.2,157.8 473.1,157.1 474.0,156.3 474.8,155.7 475.7,155.0 476.6,154.4 477.4,153.9 478.3,153.3 479.2,152.9 480.1,152.5 480.9,152.1 481.8,151.7 482.7,151.4 483.6,151.2 484.4,151.0 485.3,150.8 486.2,150.7 487.1,150.6 487.9,150.6 488.8,150.6 489.7,150.7 490.6,150.7 491.4,150.9 492.3,151.1 493.2,151.3 494.1,151.5 494.9,151.8 495.8,152.1 496.7,152.5 497.6,152.9 498.4,153.3 499.3,153.7 500.2,154.2 501.1,154.7 501.9,155.3 502.8,155.8 503.7,156.4 504.6,157.0 505.4,157.6 506.3,158.3 507.2,159.0 508.1,159.6 508.9,160.3 509.8,161.1 510.7,161.8 511.6,162.6 512.4,163.3 513.3,164.1 514.2,164.9 515.0,165.7 515.9,166.5 516.8,167.3 517.7,168.1 518.5,168.9 519.4,169.8 520.3,170.6 521.2,171.4 522.0,172.3 522.9,173.1 523.8,174.0 524.7,174.9 525.5,175.7 526.4,176.6 527.3,177.4 528.2,178.3 529.0,179.1 529.9,180.0 530.8,180.8 531.7,181.7 532.5,182.5 533.4,183.3 534.3,184.2 535.2,185.0 536.0,185.8 536.9,186.6 537.8,187.4 538.7,188.2 539.5,189.0 540.4,189.8 541.3,190.6 542.2,191.4 543.0,192.1 543.9,192.8 544.8,193.6 545.7,194.2 546.5,194.9 547.4,195.6 548.3,196.3 549.2,196.9 550.0,197.6 550.9,198.2 551.8,198.9 552.6,199.5 553.5,200.1 554.4,200.7 555.3,201.3 556.1,201.9 557.0,202.5 557.9,203.0 558.8,203.6 559.6,204.1 560.5,204.7 561.4,205.2 562.3,205.7 563.1,206.2 564.0,206.8 564.9,207.2 565.8,207.7 566.6,208.2 567.5,208.7 568.4,209.1 569.3,209.6 570.1,210.0 571.0,210.5 571.9,210.9 572.8,211.3 573.6,211.8 574.5,212.2 575.4,212.6 576.3,213.0 577.1,213.3 578.0,213.7 578.9,214.1 579.8,214.5 580.6,214.8 581.5,215.2 582.4,215.5 583.3,215.8 584.1,216.2 585.0,216.5 585.9,216.8 586.7,217.1 587.6,217.4 588.5,217.7 589.4,218.0 590.2,218.3 591.1,218.5 592.0,218.8 592.9,219.1 593.7,219.3 594.6,219.6 595.5,219.8 596.4,220.1 597.2,220.3 598.1,220.5 599.0,220.8 599.9,221.0 600.7,221.2 601.6,221.4 602.5,221.6 603.4,221.8 604.2,222.1 605.1,222.3 606.0,222.4 606.9,222.6 607.7,222.8 608.6,223.0 609.5,223.2 610.4,223.4 611.2,223.5 612.1,223.7 613.0,223.9 613.9,224.0 614.7,224.2 615.6,224.4 616.5,224.5 617.4,224.7 618.2,224.8 619.1,224.9 620.0,225.1 620.9,225.2 621.7,225.4 622.6,225.5 623.5,225.6 624.3,225.8 625.2,225.9 626.1,226.0 627.0,226.1 627.8,226.2 628.7,226.4 629.6,226.5 630.5,226.6 631.3,226.7 632.2,226.8 633.1,226.9 634.0,227.0 634.8,227.1 635.7,227.2 636.6,227.3 637.5,227.4 638.3,227.5 639.2,227.6 640.1,227.7 641.0,227.8 641.8,227.8 642.7,227.9 643.6,228.0 644.5,228.1 645.3,228.2 646.2,228.3 647.1,228.4 648.0,228.5 648.8,228.5 649.7,228.6 650.6,228.7 651.5,228.8 652.3,228.9 653.2,228.9 654.1,229.0 655.0,229.1 655.8,229.2 656.7,229.2 657.6,229.3 658.5,229.4 659.3,229.4 660.2,229.5 661.1,229.5 661.9,229.6 662.8,229.7 663.7,229.7 664.6,229.8 665.4,229.8 666.3,229.9 667.2,230.0 668.1,230.0 668.9,230.1 669.8,230.1 670.7,230.2 671.6,230.2 672.4,230.3 673.3,230.3 674.2,230.3 675.1,230.4 675.9,230.4 676.8,230.5 677.7,230.5 678.6,230.6 679.4,230.6 680.3,230.6 681.2,230.7 682.1,230.7 682.9,230.8 683.8,230.8 684.7,230.8 685.6,230.9 686.4,230.9 687.3,230.9 688.2,231.0 689.1,231.0 689.9,231.0 690.8,231.1 691.7,231.1 692.6,231.1 693.4,231.1 694.3,231.2 695.2,231.2 696.0,231.2 696.9,231.3 697.8,231.3 698.7,231.3" stroke="#a020a8"/><path d="M404.0,228.0 404.9,227.6 405.7,227.1 406.6,226.5 407.5,226.0 408.4,225.4 409.2,224.7 410.1,224.0 411.0,223.3 411.9,222.5 412.7,221.6 413.6,220.7 414.5,219.8 415.4,218.8 416.2,217.8 417.1,216.7 418.0,215.5 418.9,214.3 419.7,213.0 420.6,211.7 421.5,210.3 422.4,208.9 423.2,207.4 424.1,205.8 425.0,204.2 425.9,202.5 426.7,200.8 427.6,199.0 428.5,197.2 429.4,195.3 430.2,193.2 431.1,191.1 432.0,188.9 432.9,186.6 433.7,184.3 434.6,182.0 435.5,179.6 436.4,177.2 437.2,174.8 438.1,172.3 439.0,169.8 439.9,167.3 440.7,164.8 441.6,162.3 442.5,159.7 443.3,157.2 444.2,154.7 445.1,152.1 446.0,149.6 446.8,147.1 447.7,144.6 448.6,142.1 449.5,139.6 450.3,137.2 451.2,134.8 452.1,132.6 453.0,130.3 453.8,128.2 454.7,126.0 455.6,123.9 456.5,121.8 457.3,119.8 458.2,117.8 459.1,115.8 460.0,113.9 460.8,112.1 461.7,110.3 462.6,108.5 463.5,106.8 464.3,105.2 465.2,103.6 466.1,102.1 467.0,100.7 467.8,99.3 468.7,98.0 469.6,96.8 470.5,95.6 471.3,94.5 472.2,93.5 473.1,92.5 474.0,91.6 474.8,90.8 475.7,90.1 476.6,89.4 477.4,88.9 478.3,88.3 479.2,87.9 480.1,87.5 480.9,87.2 481.8,87.0 482.7,86.9 483.6,86.8 484.4,86.8 485.3,86.9 486.2,87.0 487.1,87.2 487.9,87.5 488.8,87.8 489.7,88.2 490.6,88.7 491.4,89.2 492.3,89.8 493.2,90.4 494.1,91.1 494.9,91.9 495.8,92.7 496.7,93.5 497.6,94.4 498.4,95.3 499.3,96.3 500.2,97.3 501.1,98.4 501.9,99.5 502.8,100.6 503.7,101.7 504.6,102.9 505.4,104.1 506.3,105.4 507.2,106.6 508.1,107.9 508.9,109.2 509.8,110.5 510.7,111.9 511.6,113.2 512.4,114.6 513.3,116.0 514.2,117.4 515.0,118.8 515.9,120.2 516.8,121.7 517.7,123.1 518.5,124.6 519.4,126.0 520.3,127.5 521.2,129.0 522.0,130.4 522.9,131.9 523.8,133.4 524.7,134.8 525.5,136.3 526.4,137.7 527.3,139.2 528.2,140.6 529.0,142.1 529.9,143.5 530.8,144.9 531.7,146.4 532.5,147.8 533.4,149.2 534.3,150.6 535.2,152.0 536.0,153.3 536.9,154.7 537.8,156.0 538.7,157.4 539.5,158.6 540.4,159.9 541.3,161.1 542.2,162.3 543.0,163.5 543.9,164.6 544.8,165.8 545.7,167.0 546.5,168.1 547.4,169.2 548.3,170.3 549.2,171.4 550.0,172.5 550.9,173.5 551.8,174.6 552.6,175.6 553.5,176.6 554.4,177.6 555.3,178.6 556.1,179.6 557.0,180.5 557.9,181.4 558.8,182.4 559.6,183.3 560.5,184.2 561.4,185.0 562.3,185.9 563.1,186.8 564.0,187.6 564.9,188.4 565.8,189.2 566.6,190.0 567.5,190.8 568.4,191.6 569.3,192.3 570.1,193.1 571.0,193.8 571.9,194.5 572.8,195.2 573.6,195.9 574.5,196.6 575.4,197.3 576.3,197.9 577.1,198.6 578.0,199.2 578.9,199.8 579.8,200.4 580.6,201.0 581.5,201.6 582.4,202.1 583.3,202.7 584.1,203.2 585.0,203.8 585.9,204.3 586.7,204.8 587.6,205.3 588.5,205.8 589.4,206.3 590.2,206.7 591.1,207.2 592.0,207.7 592.9,208.1 593.7,208.6 594.6,209.0 595.5,209.4 596.4,209.8 597.2,210.2 598.1,210.6 599.0,211.0 599.9,211.4 600.7,211.8 601.6,212.2 602.5,212.5 603.4,212.9 604.2,213.2 605.1,213.6 606.0,213.9 606.9,214.2 607.7,214.6 608.6,214.9 609.5,215.2 610.4,215.5 611.2,215.8 612.1,216.1 613.0,216.4 613.9,216.7 614.7,216.9 615.6,217.2 616.5,217.5 617.4,217.7 618.2,218.0 619.1,218.3 620.0,218.5 620.9,218.7 621.7,219.0 622.6,219.2 623.5,219.4 624.3,219.7 625.2,219.9 626.1,220.1 627.0,220.3 627.8,220.5 628.7,220.7 629.6,220.9 630.5,221.1 631.3,221.3 632.2,221.5 633.1,221.7 634.0,221.9 634.8,222.1 635.7,222.2 636.6,222.4 637.5,222.6 638.3,222.8 639.2,222.9 640.1,223.1 641.0,223.3 641.8,223.5 642.7,223.6 643.6,223.8 644.5,224.0 645.3,224.1 646.2,224.3 647.1,224.5 648.0,224.6 648.8,224.8 649.7,224.9 650.6,225.1 651.5,225.2 652.3,225.4 653.2,225.5 654.1,225.6 655.0,225.8 655.8,225.9 656.7,226.0 657.6,226.1 658.5,226.3 659.3,226.4 660.2,226.5 661.1,226.6 661.9,226.7 662.8,226.8 663.7,227.0 664.6,227.1 665.4,227.2 666.3,227.3 667.2,227.4 668.1,227.5 668.9,227.6 669.8,227.7 670.7,227.7 671.6,227.8 672.4,227.9 673.3,228.0 674.2,228.1 675.1,228.2 675.9,228.3 676.8,228.3 677.7,228.4 678.6,228.5 679.4,228.6 680.3,228.7 681.2,228.7 682.1,228.8 682.9,228.9 683.8,228.9 684.7,229.0 685.6,229.1 686.4,229.1 687.3,229.2 688.2,229.3 689.1,229.3 689.9,229.4 690.8,229.4 691.7,229.5 692.6,229.6 693.4,229.6 694.3,229.7 695.2,229.7 696.0,229.8 696.9,229.8 697.8,229.9 698.7,229.9" stroke="#909010"/><path d="M404.0,231.8 404.9,231.7 405.7,231.7 406.6,231.6 407.5,231.5 408.4,231.4 409.2,231.2 410.1,231.1 411.0,230.9 411.9,230.8 412.7,230.6 413.6,230.4 414.5,230.2 415.4,230.0 416.2,229.7 417.1,229.5 418.0,229.2 418.9,228.9 419.7,228.6 420.6,228.3 421.5,227.9 422.4,227.6 423.2,227.2 424.1,226.8 425.0,226.4 425.9,225.9 426.7,225.4 427.6,225.0 428.5,224.5 429.4,223.9 430.2,223.4 431.1,222.8 432.0,222.2 432.9,221.6 433.7,221.0 434.6,220.3 435.5,219.6 436.4,218.9 437.2,218.1 438.1,217.3 439.0,216.6 439.9,215.8 440.7,214.9 441.6,214.1 442.5,213.3 443.3,212.4 444.2,211.6 445.1,210.7 446.0,209.8 446.8,208.9 447.7,208.0 448.6,207.2 449.5,206.3 450.3,205.4 451.2,204.5 452.1,203.6 453.0,202.7 453.8,201.9 454.7,201.0 455.6,200.1 456.5,199.3 457.3,198.6 458.2,197.8 459.1,197.0 460.0,196.2 460.8,195.5 461.7,194.8 462.6,194.1 463.5,193.4 464.3,192.7 465.2,192.0 466.1,191.3 467.0,190.7 467.8,190.1 468.7,189.5 469.6,188.9 470.5,188.4 471.3,187.9 472.2,187.4 473.1,186.9 474.0,186.4 474.8,186.0 475.7,185.6 476.6,185.2 477.4,184.9 478.3,184.5 479.2,184.2 480.1,184.0 480.9,183.7 481.8,183.5 482.7,183.3 483.6,183.1 484.4,183.0 485.3,182.9 486.2,182.8 487.1,182.8 487.9,182.7 488.8,182.7 489.7,182.7 490.6,182.8 491.4,182.8 492.3,182.9 493.2,183.1 494.1,183.2 494.9,183.4 495.8,183.5 496.7,183.7 497.6,184.0 498.4,184.2 499.3,184.5 500.2,184.8 501.1,185.1 501.9,185.4 502.8,185.7 503.7,186.1 504.6,186.4 505.4,186.8 506.3,187.2 507.2,187.6 508.1,188.0 508.9,188.4 509.8,188.9 510.7,189.3 511.6,189.8 512.4,190.2 513.3,190.7 514.2,191.2 515.0,191.6 515.9,192.1 516.8,192.6 517.7,193.1 518.5,193.6 519.4,194.1 520.3,194.6 521.2,195.1 522.0,195.7 522.9,196.2 523.8,196.7 524.7,197.2 525.5,197.7 526.4,198.3 527.3,198.8 528.2,199.3 529.0,199.8 529.9,200.3 530.8,200.8 531.7,201.4 532.5,201.9 533.4,202.4 534.3,202.9 535.2,203.4 536.0,203.9 536.9,204.4 537.8,204.9 538.7,205.4 539.5,205.9 540.4,206.3 541.3,206.8 542.2,207.3 543.0,207.8 543.9,208.2 544.8,208.6 545.7,209.1 546.5,209.5 547.4,209.9 548.3,210.3 549.2,210.7 550.0,211.1 550.9,211.5 551.8,211.9 552.6,212.3 553.5,212.6 554.4,213.0 555.3,213.4 556.1,213.7 557.0,214.1 557.9,214.4 558.8,214.8 559.6,215.1 560.5,215.4 561.4,215.8 562.3,216.1 563.1,216.4 564.0,216.7 564.9,217.0 565.8,217.3 566.6,217.6 567.5,217.9 568.4,218.2 569.3,218.5 570.1,218.7 571.0,219.0 571.9,219.3 572.8,219.5 573.6,219.8 574.5,220.0 575.4,220.3 576.3,220.5 577.1,220.8 578.0,221.0 578.9,221.2 579.8,221.5 580.6,221.7 581.5,221.9 582.4,222.1 583.3,222.3 584.1,222.5 585.0,222.7 585.9,222.9 586.7,223.1 587.6,223.3 588.5,223.4 589.4,223.6 590.2,223.8 591.1,224.0 592.0,224.1 592.9,224.3 593.7,224.4 594.6,224.6 595.5,224.8 596.4,224.9 597.2,225.0 598.1,225.2 599.0,225.3 599.9,225.5 600.7,225.6 601.6,225.7 602.5,225.9 603.4,226.0 604.2,226.1 605.1,226.2 606.0,226.4 606.9,226.5 607.7,226.6 608.6,226.7 609.5,226.8 610.4,226.9 611.2,227.0 612.1,227.1 613.0,227.2 613.9,227.3 614.7,227.4 615.6,227.5 616.5,227.6 617.4,227.7 618.2,227.8 619.1,227.9 620.0,228.0 620.9,228.1 621.7,228.2 622.6,228.2 623.5,228.3 624.3,228.4 625.2,228.5 626.1,228.5 627.0,228.6 627.8,228.7 628.7,228.8 629.6,228.8 630.5,228.9 631.3,229.0 632.2,229.0 633.1,229.1 634.0,229.2 634.8,229.2 635.7,229.3 636.6,229.3 637.5,229.4 638.3,229.5 639.2,229.5 640.1,229.6 641.0,229.6 641.8,229.7 642.7,229.7 643.6,229.8 644.5,229.8 645.3,229.9 646.2,229.9 647.1,230.0 648.0,230.1 648.8,230.1 649.7,230.2 650.6,230.2 651.5,230.3 652.3,230.3 653.2,230.3 654.1,230.4 655.0,230.4 655.8,230.5 656.7,230.5 657.6,230.6 658.5,230.6 659.3,230.6 660.2,230.7 661.1,230.7 661.9,230.8 662.8,230.8 663.7,230.8 664.6,230.9 665.4,230.9 666.3,230.9 667.2,231.0 668.1,231.0 668.9,231.0 669.8,231.1 670.7,231.1 671.6,231.1 672.4,231.2 673.3,231.2 674.2,231.2 675.1,231.2 675.9,231.3 676.8,231.3 677.7,231.3 678.6,231.3 679.4,231.4 680.3,231.4 681.2,231.4 682.1,231.4 682.9,231.5 683.8,231.5 684.7,231.5 685.6,231.5 686.4,231.6 687.3,231.6 688.2,231.6 689.1,231.6 689.9,231.6 690.8,231.7 691.7,231.7 692.6,231.7 693.4,231.7 694.3,231.7 695.2,231.7 696.0,231.8 696.9,231.8 697.8,231.8 698.7,231.8" stroke="#20c8d0"/><path d="M404.0,228.5 404.9,228.0 405.7,227.5 406.6,226.9 407.5,226.4 408.4,225.7 409.2,225.0 410.1,224.3 411.0,223.5 411.9,222.7 412.7,221.8 413.6,220.8 414.5,219.8 415.4,218.7 416.2,217.5 417.1,216.3 418.0,215.0 418.9,213.7 419.7,212.2 420.6,210.7 421.5,209.1 422.4,207.5 423.2,205.7 424.1,203.9 425.0,202.0 425.9,200.1 426.7,198.0 427.6,195.9 428.5,193.7 429.4,191.3 430.2,188.7 431.1,186.1 432.0,183.5 432.9,180.7 433.7,177.9 434.6,175.1 435.5,172.2 436.4,169.2 437.2,166.2 438.1,163.1 439.0,160.0 439.9,156.9 440.7,153.7 441.6,150.5 442.5,147.3 443.3,144.1 444.2,140.9 445.1,137.7 446.0,134.4 446.8,131.2 447.7,128.0 448.6,124.8 449.5,121.7 450.3,118.6 451.2,115.7 452.1,112.8 453.0,109.9 453.8,107.1 454.7,104.3 455.6,101.6 456.5,98.9 457.3,96.2 458.2,93.6 459.1,91.1 460.0,88.6 460.8,86.2 461.7,83.9 462.6,81.6 463.5,79.5 464.3,77.4 465.2,75.3 466.1,73.4 467.0,71.5 467.8,69.8 468.7,68.1 469.6,66.5 470.5,65.0 471.3,63.6 472.2,62.3 473.1,61.1 474.0,60.0 474.8,59.1 475.7,58.2 476.6,57.4 477.4,56.7 478.3,56.1 479.2,55.6 480.1,55.2 480.9,54.9 481.8,54.7 482.7,54.6 483.6,54.6 484.4,54.7 485.3,54.9 486.2,55.1 487.1,55.5 487.9,55.9 488.8,56.4 489.7,57.0 490.6,57.7 491.4,58.5 492.3,59.3 493.2,60.2 494.1,61.1 494.9,62.2 495.8,63.3 496.7,64.4 497.6,65.6 498.4,66.9 499.3,68.2 500.2,69.5 501.1,70.9 501.9,72.4 502.8,73.8 503.7,75.4 504.6,76.9 505.4,78.5 506.3,80.1 507.2,81.8 508.1,83.5 508.9,85.2 509.8,86.9 510.7,88.6 511.6,90.4 512.4,92.2 513.3,93.9 514.2,95.7 515.0,97.6 515.9,99.4 516.8,101.2 517.7,103.1 518.5,104.9 519.4,106.8 520.3,108.6 521.2,110.5 522.0,112.4 522.9,114.2 523.8,116.1 524.7,117.9 525.5,119.8 526.4,121.6 527.3,123.4 528.2,125.2 529.0,127.0 529.9,128.8 530.8,130.6 531.7,132.4 532.5,134.1 533.4,135.9 534.3,137.6 535.2,139.3 536.0,141.0 536.9,142.7 537.8,144.4 538.7,145.9 539.5,147.5 540.4,149.0 541.3,150.5 542.2,151.9 543.0,153.4 543.9,154.8 544.8,156.2 545.7,157.6 546.5,159.0 547.4,160.4 548.3,161.7 549.2,163.0 550.0,164.3 550.9,165.6 551.8,166.9 552.6,168.1 553.5,169.3 554.4,170.5 555.3,171.7 556.1,172.8 557.0,174.0 557.9,175.1 558.8,176.2 559.6,177.3 560.5,178.4 561.4,179.4 562.3,180.4 563.1,181.4 564.0,182.4 564.9,183.4 565.8,184.4 566.6,185.3 567.5,186.2 568.4,187.1 569.3,188.0 570.1,188.9 571.0,189.7 571.9,190.6 572.8,191.4 573.6,192.2 574.5,193.0 575.4,193.8 576.3,194.6 577.1,195.3 578.0,196.0 578.9,196.8 579.8,197.5 580.6,198.1 581.5,198.8 582.4,199.4 583.3,200.1 584.1,200.7 585.0,201.3 585.9,201.9 586.7,202.5 587.6,203.1 588.5,203.6 589.4,204.2 590.2,204.7 591.1,205.3 592.0,205.8 592.9,206.3 593.7,206.8 594.6,207.3 595.5,207.8 596.4,208.2 597.2,208.7 598.1,209.1 599.0,209.6 599.9,210.0 600.7,210.5 601.6,210.9 602.5,211.3 603.4,211.7 604.2,212.1 605.1,212.5 606.0,212.8 606.9,213.2 607.7,213.6 608.6,213.9 609.5,214.3 610.4,214.6 611.2,214.9 612.1,215.3 613.0,215.6 613.9,215.9 614.7,216.2 615.6,216.5 616.5,216.8 617.4,217.1 618.2,217.4 619.1,217.7 620.0,217.9 620.9,218.2 621.7,218.5 622.6,218.7 623.5,219.0 624.3,219.2 625.2,219.5 626.1,219.7 627.0,219.9 627.8,220.2 628.7,220.4 629.6,220.6 630.5,220.8 631.3,221.0 632.2,221.2 633.1,221.4 634.0,221.6 634.8,221.8 635.7,222.0 636.6,222.2 637.5,222.4 638.3,222.6 639.2,222.8 640.1,223.0 641.0,223.2 641.8,223.4 642.7,223.6 643.6,223.7 644.5,223.9 645.3,224.1 646.2,224.3 647.1,224.4 648.0,224.6 648.8,224.8 649.7,224.9 650.6,225.1 651.5,225.2 652.3,225.4 653.2,225.5 654.1,225.7 655.0,225.8 655.8,225.9 656.7,226.1 657.6,226.2 658.5,226.3 659.3,226.5 660.2,226.6 661.1,226.7 661.9,226.8 662.8,226.9 663.7,227.1 664.6,227.2 665.4,227.3 666.3,227.4 667.2,227.5 668.1,227.6 668.9,227.7 669.8,227.8 670.7,227.9 671.6,228.0 672.4,228.1 673.3,228.2 674.2,228.2 675.1,228.3 675.9,228.4 676.8,228.5 677.7,228.6 678.6,228.7 679.4,228.7 680.3,228.8 681.2,228.9 682.1,229.0 682.9,229.0 683.8,229.1 684.7,229.2 685.6,229.2 686.4,229.3 687.3,229.4 688.2,229.4 689.1,229.5 689.9,229.5 690.8,229.6 691.7,229.7 692.6,229.7 693.4,229.8 694.3,229.8 695.2,229.9 696.0,229.9 696.9,230.0 697.8,230.0 698.7,230.1" stroke="#881414"/><path d="M404.0,229.1 404.9,228.7 405.7,228.3 406.6,227.8 407.5,227.4 408.4,226.8 409.2,226.3 410.1,225.7 411.0,225.0 411.9,224.3 412.7,223.6 413.6,222.8 414.5,222.0 415.4,221.1 416.2,220.2 417.1,219.2 418.0,218.1 418.9,217.0 419.7,215.9 420.6,214.6 421.5,213.4 422.4,212.0 423.2,210.6 424.1,209.2 425.0,207.7 425.9,206.1 426.7,204.4 427.6,202.7 428.5,201.0 429.4,199.2 430.2,197.2 431.1,195.1 432.0,193.0 432.9,190.8 433.7,188.6 434.6,186.3 435.5,183.9 436.4,181.6 437.2,179.1 438.1,176.7 439.0,174.2 439.9,171.7 440.7,169.1 441.6,166.6 442.5,164.0 443.3,161.4 444.2,158.8 445.1,156.2 446.0,153.6 446.8,151.0 447.7,148.5 448.6,145.9 449.5,143.3 450.3,140.8 451.2,138.3 452.1,135.9 453.0,133.6 453.8,131.3 454.7,129.1 455.6,126.8 456.5,124.6 457.3,122.5 458.2,120.4 459.1,118.3 460.0,116.3 460.8,114.3 461.7,112.4 462.6,110.6 463.5,108.7 464.3,107.0 465.2,105.3 466.1,103.7 467.0,102.1 467.8,100.7 468.7,99.2 469.6,97.9 470.5,96.6 471.3,95.4 472.2,94.3 473.1,93.2 474.0,92.3 474.8,91.4 475.7,90.6 476.6,89.8 477.4,89.2 478.3,88.6 479.2,88.1 480.1,87.7 480.9,87.3 481.8,87.0 482.7,86.8 483.6,86.7 484.4,86.7 485.3,86.7 486.2,86.8 487.1,87.0 487.9,87.2 488.8,87.6 489.7,87.9 490.6,88.4 491.4,88.8 492.3,89.4 493.2,90.0 494.1,90.7 494.9,91.4 495.8,92.2 496.7,93.0 497.6,93.8 498.4,94.8 499.3,95.7 500.2,96.7 501.1,97.7 501.9,98.8 502.8,99.9 503.7,101.1 504.6,102.2 505.4,103.4 506.3,104.6 507.2,105.9 508.1,107.2 508.9,108.5 509.8,109.8 510.7,111.1 511.6,112.5 512.4,113.8 513.3,115.2 514.2,116.6 515.0,118.0 515.9,119.4 516.8,120.9 517.7,122.3 518.5,123.8 519.4,125.2 520.3,126.7 521.2,128.1 522.0,129.6 522.9,131.1 523.8,132.5 524.7,134.0 525.5,135.5 526.4,136.9 527.3,138.4 528.2,139.8 529.0,141.3 529.9,142.7 530.8,144.2 531.7,145.6 532.5,147.0 533.4,148.4 534.3,149.8 535.2,151.2 536.0,152.6 536.9,153.9 537.8,155.3 538.7,156.6 539.5,157.9 540.4,159.2 541.3,160.4 542.2,161.6 543.0,162.8 543.9,164.0 544.8,165.2 545.7,166.3 546.5,167.5 547.4,168.6 548.3,169.7 549.2,170.8 550.0,171.9 550.9,173.0 551.8,174.0 552.6,175.0 553.5,176.1 554.4,177.1 555.3,178.1 556.1,179.0 557.0,180.0 557.9,180.9 558.8,181.9 559.6,182.8 560.5,183.7 561.4,184.6 562.3,185.4 563.1,186.3 564.0,187.1 564.9,188.0 565.8,188.8 566.6,189.6 567.5,190.4 568.4,191.2 569.3,191.9 570.1,192.7 571.0,193.4 571.9,194.1 572.8,194.8 573.6,195.5 574.5,196.2 575.4,196.9 576.3,197.6 577.1,198.2 578.0,198.8 578.9,199.5 579.8,200.1 580.6,200.7 581.5,201.3 582.4,201.8 583.3,202.4 584.1,202.9 585.0,203.5 585.9,204.0 586.7,204.5 587.6,205.0 588.5,205.5 589.4,206.0 590.2,206.5 591.1,207.0 592.0,207.4 592.9,207.9 593.7,208.3 594.6,208.8 595.5,209.2 596.4,209.6 597.2,210.0 598.1,210.4 599.0,210.8 599.9,211.2 600.7,211.6 601.6,212.0 602.5,212.3 603.4,212.7 604.2,213.0 605.1,213.4 606.0,213.7 606.9,214.1 607.7,214.4 608.6,214.7 609.5,215.0 610.4,215.3 611.2,215.6 612.1,215.9 613.0,216.2 613.9,216.5 614.7,216.8 615.6,217.1 616.5,217.3 617.4,217.6 618.2,217.9 619.1,218.1 620.0,218.4 620.9,218.6 621.7,218.9 622.6,219.1 623.5,219.3 624.3,219.5 625.2,219.8 626.1,220.0 627.0,220.2 627.8,220.4 628.7,220.6 629.6,220.8 630.5,221.0 631.3,221.2 632.2,221.4 633.1,221.6 634.0,221.8 634.8,222.0 635.7,222.1 636.6,222.3 637.5,222.5 638.3,222.7 639.2,222.8 640.1,223.0 641.0,223.2 641.8,223.4 642.7,223.5 643.6,223.7 644.5,223.9 645.3,224.1 646.2,224.2 647.1,224.4 648.0,224.5 648.8,224.7 649.7,224.8 650.6,225.0 651.5,225.1 652.3,225.3 653.2,225.4 654.1,225.6 655.0,225.7 655.8,225.8 656.7,225.9 657.6,226.1 658.5,226.2 659.3,226.3 660.2,226.4 661.1,226.6 661.9,226.7 662.8,226.8 663.7,226.9 664.6,227.0 665.4,227.1 666.3,227.2 667.2,227.3 668.1,227.4 668.9,227.5 669.8,227.6 670.7,227.7 671.6,227.8 672.4,227.9 673.3,228.0 674.2,228.1 675.1,228.1 675.9,228.2 676.8,228.3 677.7,228.4 678.6,228.5 679.4,228.5 680.3,228.6 681.2,228.7 682.1,228.8 682.9,228.8 683.8,228.9 684.7,229.0 685.6,229.0 686.4,229.1 687.3,229.2 688.2,229.2 689.1,229.3 689.9,229.3 690.8,229.4 691.7,229.5 692.6,229.5 693.4,229.6 694.3,229.6 695.2,229.7 696.0,229.7 696.9,229.8 697.8,229.8 698.7,229.9" stroke="#e8a8f8"/><path d="M404.0,227.5 404.9,226.9 405.7,226.3 406.6,225.7 407.5,225.0 408.4,224.3 409.2,223.5 410.1,222.6 411.0,221.7 411.9,220.7 412.7,219.6 413.6,218.5 414.5,217.3 415.4,216.1 416.2,214.7 417.1,213.3 418.0,211.8 418.9,210.3 419.7,208.6 420.6,206.9 421.5,205.1 422.4,203.2 423.2,201.2 424.1,199.1 425.0,197.0 425.9,194.8 426.7,192.5 427.6,190.1 428.5,187.6 429.4,185.1 430.2,182.2 431.1,179.3 432.0,176.3 432.9,173.2 433.7,170.1 434.6,166.9 435.5,163.6 436.4,160.3 437.2,156.9 438.1,153.5 439.0,150.1 439.9,146.6 440.7,143.0 441.6,139.5 442.5,135.9 443.3,132.3 444.2,128.7 445.1,125.2 446.0,121.6 446.8,118.0 447.7,114.4 448.6,110.9 449.5,107.4 450.3,103.9 451.2,100.4 452.1,97.2 453.0,94.1 453.8,90.9 454.7,87.8 455.6,84.8 456.5,81.8 457.3,78.8 458.2,75.9 459.1,73.1 460.0,70.4 460.8,67.7 461.7,65.1 462.6,62.5 463.5,60.1 464.3,57.7 465.2,55.4 466.1,53.2 467.0,51.1 467.8,49.1 468.7,47.2 469.6,45.4 470.5,43.7 471.3,42.1 472.2,40.6 473.1,39.2 474.0,37.9 474.8,36.7 475.7,35.6 476.6,34.6 477.4,33.8 478.3,33.0 479.2,32.4 480.1,31.8 480.9,31.4 481.8,31.1 482.7,30.9 483.6,30.8 484.4,30.8 485.3,30.9 486.2,31.1 487.1,31.4 487.9,31.8 488.8,32.3 489.7,32.9 490.6,33.6 491.4,34.3 492.3,35.2 493.2,36.1 494.1,37.1 494.9,38.2 495.8,39.4 496.7,40.6 497.6,41.9 498.4,43.3 499.3,44.7 500.2,46.2 501.1,47.7 501.9,49.3 502.8,50.9 503.7,52.6 504.6,54.3 505.4,56.1 506.3,57.9 507.2,59.7 508.1,61.6 508.9,63.5 509.8,65.4 510.7,67.4 511.6,69.4 512.4,71.4 513.3,73.4 514.2,75.4 515.0,77.4 515.9,79.5 516.8,81.6 517.7,83.6 518.5,85.7 519.4,87.9 520.3,90.0 521.2,92.1 522.0,94.2 522.9,96.3 523.8,98.4 524.7,100.5 525.5,102.6 526.4,104.7 527.3,106.7 528.2,108.8 529.0,110.9 529.9,112.9 530.8,115.0 531.7,117.0 532.5,119.0 533.4,121.0 534.3,123.0 535.2,124.9 536.0,126.9 536.9,128.8 537.8,130.7 538.7,132.6 539.5,134.3 540.4,136.1 541.3,137.8 542.2,139.5 543.0,141.1 543.9,142.8 544.8,144.4 545.7,146.0 546.5,147.6 547.4,149.2 548.3,150.7 549.2,152.2 550.0,153.7 550.9,155.2 551.8,156.6 552.6,158.1 553.5,159.5 554.4,160.9 555.3,162.2 556.1,163.5 557.0,164.9 557.9,166.2 558.8,167.4 559.6,168.7 560.5,169.9 561.4,171.1 562.3,172.3 563.1,173.5 564.0,174.6 564.9,175.7 565.8,176.8 566.6,177.9 567.5,179.0 568.4,180.0 569.3,181.0 570.1,182.1 571.0,183.0 571.9,184.0 572.8,185.0 573.6,185.9 574.5,186.8 575.4,187.7 576.3,188.6 577.1,189.5 578.0,190.3 578.9,191.1 579.8,192.0 580.6,192.8 581.5,193.5 582.4,194.3 583.3,195.0 584.1,195.7 585.0,196.4 585.9,197.1 586.7,197.8 587.6,198.5 588.5,199.1 589.4,199.8 590.2,200.4 591.1,201.0 592.0,201.6 592.9,202.2 593.7,202.8 594.6,203.3 595.5,203.9 596.4,204.4 597.2,205.0 598.1,205.5 599.0,206.0 599.9,206.5 600.7,207.0 601.6,207.5 602.5,208.0 603.4,208.4 604.2,208.9 605.1,209.3 606.0,209.8 606.9,210.2 607.7,210.6 608.6,211.0 609.5,211.4 610.4,211.8 611.2,212.2 612.1,212.6 613.0,213.0 613.9,213.3 614.7,213.7 615.6,214.0 616.5,214.4 617.4,214.7 618.2,215.0 619.1,215.4 620.0,215.7 620.9,216.0 621.7,216.3 622.6,216.6 623.5,216.9 624.3,217.2 625.2,217.4 626.1,217.7 627.0,218.0 627.8,218.2 628.7,218.5 629.6,218.8 630.5,219.0 631.3,219.2 632.2,219.5 633.1,219.7 634.0,219.9 634.8,220.2 635.7,220.4 636.6,220.6 637.5,220.8 638.3,221.0 639.2,221.2 640.1,221.5 641.0,221.7 641.8,221.9 642.7,222.1 643.6,222.3 644.5,222.6 645.3,222.8 646.2,223.0 647.1,223.2 648.0,223.3 648.8,223.5 649.7,223.7 650.6,223.9 651.5,224.1 652.3,224.2 653.2,224.4 654.1,224.6 655.0,224.7 655.8,224.9 656.7,225.1 657.6,225.2 658.5,225.4 659.3,225.5 660.2,225.6 661.1,225.8 661.9,225.9 662.8,226.1 663.7,226.2 664.6,226.3 665.4,226.4 666.3,226.6 667.2,226.7 668.1,226.8 668.9,226.9 669.8,227.0 670.7,227.1 671.6,227.2 672.4,227.4 673.3,227.5 674.2,227.6 675.1,227.7 675.9,227.8 676.8,227.8 677.7,227.9 678.6,228.0 679.4,228.1 680.3,228.2 681.2,228.3 682.1,228.4 682.9,228.5 683.8,228.5 684.7,228.6 685.6,228.7 686.4,228.8 687.3,228.9 688.2,228.9 689.1,229.0 689.9,229.1 690.8,229.1 691.7,229.2 692.6,229.3 693.4,229.3 694.3,229.4 695.2,229.5 696.0,229.5 696.9,229.6 697.8,229.6 698.7,229.7" stroke="#ff1010"/><path d="M404.0,231.1 404.9,231.0 405.7,230.8 406.6,230.6 407.5,230.4 408.4,230.2 409.2,230.0 410.1,229.7 411.0,229.4 411.9,229.1 412.7,228.8 413.6,228.5 414.5,228.1 415.4,227.7 416.2,227.3 417.1,226.9 418.0,226.4 418.9,225.9 419.7,225.4 420.6,224.8 421.5,224.3 422.4,223.7 423.2,223.0 424.1,222.4 425.0,221.7 425.9,221.0 426.7,220.2 427.6,219.4 428.5,218.6 429.4,217.8 430.2,216.9 431.1,216.0 432.0,215.1 432.9,214.0 433.7,213.0 434.6,211.9 435.5,210.8 436.4,209.7 437.2,208.5 438.1,207.4 439.0,206.2 439.9,205.0 440.7,203.7 441.6,202.5 442.5,201.3 443.3,200.0 444.2,198.8 445.1,197.5 446.0,196.2 446.8,195.0 447.7,193.7 448.6,192.4 449.5,191.2 450.3,189.9 451.2,188.7 452.1,187.4 453.0,186.2 453.8,185.1 454.7,183.9 455.6,182.8 456.5,181.7 457.3,180.6 458.2,179.6 459.1,178.5 460.0,177.5 460.8,176.5 461.7,175.5 462.6,174.6 463.5,173.6 464.3,172.7 465.2,171.9 466.1,171.0 467.0,170.2 467.8,169.4 468.7,168.7 469.6,167.9 470.5,167.3 471.3,166.6 472.2,166.0 473.1,165.4 474.0,164.9 474.8,164.4 475.7,163.9 476.6,163.5 477.4,163.1 478.3,162.7 479.2,162.4 480.1,162.2 480.9,161.9 481.8,161.7 482.7,161.6 483.6,161.4 484.4,161.4 485.3,161.3 486.2,161.3 487.1,161.3 487.9,161.4 488.8,161.5 489.7,161.6 490.6,161.8 491.4,162.0 492.3,162.2 493.2,162.5 494.1,162.8 494.9,163.1 495.8,163.5 496.7,163.8 497.6,164.2 498.4,164.7 499.3,165.1 500.2,165.6 501.1,166.1 501.9,166.6 502.8,167.2 503.7,167.7 504.6,168.3 505.4,168.9 506.3,169.5 507.2,170.1 508.1,170.7 508.9,171.4 509.8,172.0 510.7,172.7 511.6,173.4 512.4,174.1 513.3,174.8 514.2,175.5 515.0,176.2 515.9,176.9 516.8,177.6 517.7,178.3 518.5,179.1 519.4,179.8 520.3,180.5 521.2,181.3 522.0,182.0 522.9,182.8 523.8,183.5 524.7,184.3 525.5,185.0 526.4,185.7 527.3,186.5 528.2,187.2 529.0,188.0 529.9,188.7 530.8,189.4 531.7,190.1 532.5,190.9 533.4,191.6 534.3,192.3 535.2,193.0 536.0,193.7 536.9,194.4 537.8,195.1 538.7,195.8 539.5,196.4 540.4,197.1 541.3,197.7 542.2,198.3 543.0,199.0 543.9,199.6 544.8,200.1 545.7,200.7 546.5,201.3 547.4,201.9 548.3,202.4 549.2,203.0 550.0,203.5 550.9,204.1 551.8,204.6 552.6,205.1 553.5,205.6 554.4,206.1 555.3,206.6 556.1,207.1 557.0,207.6 557.9,208.1 558.8,208.6 559.6,209.0 560.5,209.5 561.4,209.9 562.3,210.3 563.1,210.8 564.0,211.2 564.9,211.6 565.8,212.0 566.6,212.4 567.5,212.8 568.4,213.2 569.3,213.6 570.1,213.9 571.0,214.3 571.9,214.7 572.8,215.0 573.6,215.4 574.5,215.7 575.4,216.0 576.3,216.3 577.1,216.7 578.0,217.0 578.9,217.3 579.8,217.6 580.6,217.9 581.5,218.2 582.4,218.5 583.3,218.7 584.1,219.0 585.0,219.3 585.9,219.5 586.7,219.8 587.6,220.0 588.5,220.2 589.4,220.5 590.2,220.7 591.1,220.9 592.0,221.2 592.9,221.4 593.7,221.6 594.6,221.8 595.5,222.0 596.4,222.2 597.2,222.4 598.1,222.6 599.0,222.8 599.9,223.0 600.7,223.2 601.6,223.3 602.5,223.5 603.4,223.7 604.2,223.9 605.1,224.0 606.0,224.2 606.9,224.3 607.7,224.5 608.6,224.6 609.5,224.8 610.4,224.9 611.2,225.1 612.1,225.2 613.0,225.4 613.9,225.5 614.7,225.6 615.6,225.8 616.5,225.9 617.4,226.0 618.2,226.1 619.1,226.2 620.0,226.4 620.9,226.5 621.7,226.6 622.6,226.7 623.5,226.8 624.3,226.9 625.2,227.0 626.1,227.1 627.0,227.2 627.8,227.3 628.7,227.4 629.6,227.5 630.5,227.6 631.3,227.7 632.2,227.8 633.1,227.9 634.0,227.9 634.8,228.0 635.7,228.1 636.6,228.2 637.5,228.3 638.3,228.3 639.2,228.4 640.1,228.5 641.0,228.6 641.8,228.6 642.7,228.7 643.6,228.8 644.5,228.9 645.3,229.0 646.2,229.0 647.1,229.1 648.0,229.2 648.8,229.2 649.7,229.3 650.6,229.4 651.5,229.4 652.3,229.5 653.2,229.6 654.1,229.6 655.0,229.7 655.8,229.8 656.7,229.8 657.6,229.9 658.5,229.9 659.3,230.0 660.2,230.0 661.1,230.1 661.9,230.1 662.8,230.2 663.7,230.2 664.6,230.3 665.4,230.3 666.3,230.4 667.2,230.4 668.1,230.5 668.9,230.5 669.8,230.5 670.7,230.6 671.6,230.6 672.4,230.7 673.3,230.7 674.2,230.7 675.1,230.8 675.9,230.8 676.8,230.8 677.7,230.9 678.6,230.9 679.4,230.9 680.3,231.0 681.2,231.0 682.1,231.0 682.9,231.1 683.8,231.1 684.7,231.1 685.6,231.2 686.4,231.2 687.3,231.2 688.2,231.2 689.1,231.3 689.9,231.3 690.8,231.3 691.7,231.3 692.6,231.4 693.4,231.4 694.3,231.4 695.2,231.4 696.0,231.5 696.9,231.5 697.8,231.5 698.7,231.5" stroke="#d020ff"/><path d="M404.0,231.0 404.9,230.9 405.7,230.8 406.6,230.6 407.5,230.5 408.4,230.4 409.2,230.2 410.1,230.1 411.0,229.9 411.9,229.8 412.7,229.6 413.6,229.4 414.5,229.2 415.4,229.0 416.2,228.8 417.1,228.6 418.0,228.4 418.9,228.2 419.7,227.9 420.6,227.6 421.5,227.2 422.4,226.8 423.2,226.4 424.1,226.0 425.0,225.5 425.9,225.0 426.7,224.5 427.6,224.0 428.5,223.5 429.4,223.0 430.2,222.5 431.1,221.9 432.0,221.3 432.9,220.8 433.7,220.2 434.6,219.6 435.5,219.0 436.4,218.3 437.2,217.7 438.1,217.1 439.0,216.4 439.9,215.8 440.7,215.3 441.6,214.8 442.5,214.2 443.3,213.7 444.2,213.2 445.1,212.7 446.0,212.2 446.8,211.6 447.7,211.1 448.6,210.5 449.5,210.0 450.3,209.5 451.2,208.9 452.1,208.4 453.0,207.8 453.8,207.3 454.7,206.7 455.6,206.2 456.5,205.6 457.3,205.1 458.2,204.5 459.1,204.0 460.0,203.4 460.8,202.9 461.7,202.4 462.6,201.9 463.5,201.3 464.3,200.8 465.2,200.3 466.1,199.8 467.0,199.3 467.8,198.8 468.7,198.3 469.6,197.9 470.5,197.4 471.3,196.9 472.2,196.5 473.1,196.1 474.0,195.6 474.8,195.2 475.7,194.8 476.6,194.4 477.4,194.1 478.3,193.7 479.2,193.4 480.1,193.0 480.9,192.7 481.8,192.4 482.7,192.1 483.6,191.8 484.4,191.6 485.3,191.3 486.2,191.1 487.1,190.9 487.9,190.7 488.8,190.5 489.7,190.4 490.6,190.2 491.4,190.1 492.3,190.0 493.2,189.9 494.1,189.8 494.9,189.7 495.8,189.7 496.7,189.7 497.6,189.7 498.4,189.7 499.3,189.7 500.2,189.7 501.1,189.8 501.9,189.9 502.8,190.0 503.7,190.1 504.6,190.2 505.4,190.3 506.3,190.5 507.2,190.7 508.1,190.9 508.9,191.1 509.8,191.3 510.7,191.5 511.6,191.8 512.4,192.0 513.3,192.3 514.2,192.6 515.0,192.9 515.9,193.2 516.8,193.5 517.7,193.8 518.5,194.2 519.4,194.5 520.3,194.9 521.2,195.3 522.0,195.6 522.9,196.0 523.8,196.4 524.7,196.9 525.5,197.3 526.4,197.7 527.3,198.1 528.2,198.6 529.0,199.0 529.9,199.5 530.8,199.9 531.7,200.4 532.5,200.8 533.4,201.3 534.3,201.8 535.2,202.2 536.0,202.7 536.9,203.2 537.8,203.7 538.7,204.1 539.5,204.6 540.4,205.1 541.3,205.6 542.2,206.0 543.0,206.5 543.9,207.0 544.8,207.4 545.7,207.9 546.5,208.4 547.4,208.8 548.3,209.3 549.2,209.8 550.0,210.2 550.9,210.7 551.8,211.1 552.6,211.6 553.5,212.0 554.4,212.4 555.3,212.9 556.1,213.3 557.0,213.7 557.9,214.1 558.8,214.5 559.6,215.0 560.5,215.4 561.4,215.8 562.3,216.1 563.1,216.5 564.0,216.9 564.9,217.3 565.8,217.7 566.6,218.0 567.5,218.4 568.4,218.7 569.3,219.1 570.1,219.4 571.0,219.8 571.9,220.1 572.8,220.4 573.6,220.8 574.5,221.1 575.4,221.4 576.3,221.7 577.1,222.0 578.0,222.3 578.9,222.5 579.8,222.8 580.6,223.1 581.5,223.4 582.4,223.6 583.3,223.9 584.1,224.1 585.0,224.4 585.9,224.6 586.7,224.8 587.6,225.0 588.5,225.2 589.4,225.4 590.2,225.5 591.1,225.7 592.0,225.9 592.9,226.1 593.7,226.2 594.6,226.4 595.5,226.5 596.4,226.7 597.2,226.8 598.1,227.0 599.0,227.1 599.9,227.3 600.7,227.4 601.6,227.5 602.5,227.7 603.4,227.8 604.2,227.9 605.1,228.0 606.0,228.2 606.9,228.3 607.7,228.4 608.6,228.5 609.5,228.6 610.4,228.7 611.2,228.8 612.1,228.9 613.0,229.0 613.9,229.1 614.7,229.2 615.6,229.3 616.5,229.4 617.4,229.5 618.2,229.5 619.1,229.6 620.0,229.7 620.9,229.8 621.7,229.8 622.6,229.9 623.5,230.0 624.3,230.1 625.2,230.1 626.1,230.2 627.0,230.2 627.8,230.3 628.7,230.4 629.6,230.4 630.5,230.5 631.3,230.5 632.2,230.6 633.1,230.6 634.0,230.7 634.8,230.8 635.7,230.8 636.6,230.8 637.5,230.9 638.3,230.9 639.2,231.0 640.1,231.0 641.0,231.1 641.8,231.1 642.7,231.1 643.6,231.2 644.5,231.2 645.3,231.3 646.2,231.3 647.1,231.3 648.0,231.4 648.8,231.4 649.7,231.4 650.6,231.5 651.5,231.5 652.3,231.5 653.2,231.5 654.1,231.6 655.0,231.6 655.8,231.6 656.7,231.6 657.6,231.7 658.5,231.7 659.3,231.7 660.2,231.7 661.1,231.8 661.9,231.8 662.8,231.8 663.7,231.8 664.6,231.8 665.4,231.9 666.3,231.9 667.2,231.9 668.1,231.9 668.9,231.9 669.8,232.0 670.7,232.0 671.6,232.0 672.4,232.0 673.3,232.0 674.2,232.0 675.1,232.1 675.9,232.1 676.8,232.1 677.7,232.1 678.6,232.1 679.4,232.1 680.3,232.1 681.2,232.1 682.1,232.2 682.9,232.2 683.8,232.2 684.7,232.2 685.6,232.2 686.4,232.2 687.3,232.2 688.2,232.2 689.1,232.2 689.9,232.2 690.8,232.3 691.7,232.3 692.6,232.3 693.4,232.3 694.3,232.3 695.2,232.3 696.0,232.3 696.9,232.3 697.8,232.3 698.7,232.3" stroke="#60a020"/></g>
<rect x="34.3" y="4.5" width="300.00" height="231.50" fill="none" stroke="#1a1a1a" stroke-width="1.5"/>
<rect x="404.2" y="4.8" width="294.30" height="227.80" fill="none" stroke="#1a1a1a" stroke-width="1.5"/>
<path d="M29.80,231.00H34.3M29.80,185.70H34.3M29.80,140.40H34.3M29.80,95.10H34.3M29.80,49.80H34.3M29.80,4.50H34.3M31.80,208.35H34.3M31.80,163.05H34.3M31.80,117.75H34.3M31.80,72.45H34.3M31.80,27.15H34.3M34.30,236.0V240.5M119.95,236.0V240.5M205.60,236.0V240.5M291.25,236.0V240.5M77.12,236.0V238.5M162.77,236.0V238.5M248.43,236.0V238.5M334.08,236.0V238.5M399.70,232.60H404.2M399.70,175.65H404.2M399.70,118.70H404.2M399.70,61.75H404.2M399.70,4.80H404.2M401.70,204.12H404.2M401.70,147.18H404.2M401.70,90.22H404.2M401.70,33.28H404.2M414.93,232.6V237.1M458.65,232.6V237.1M502.37,232.6V237.1M546.09,232.6V237.1M589.81,232.6V237.1M633.53,232.6V237.1M677.25,232.6V237.1M436.79,232.6V235.1M480.51,232.6V235.1M524.23,232.6V235.1M567.95,232.6V235.1M611.67,232.6V235.1M655.39,232.6V235.1M699.11,232.6V235.1" stroke="#1a1a1a" stroke-width="1.5" fill="none"/>
<text x="28.30" y="234.80" font-size="11" text-anchor="end" >0.0</text>
<text x="28.30" y="189.50" font-size="11" text-anchor="end" >0.5</text>
<text x="28.30" y="144.20" font-size="11" text-anchor="end" >1.0</text>
<text x="28.30" y="98.90" font-size="11" text-anchor="end" >1.5</text>
<text x="28.30" y="53.60" font-size="11" text-anchor="end" >2.0</text>
<text x="28.30" y="8.30" font-size="11" text-anchor="end" >2.5</text>
<text x="34.30" y="249.20" font-size="11" text-anchor="middle" >200</text>
<text x="119.95" y="249.20" font-size="11" text-anchor="middle" >250</text>
<text x="205.60" y="249.20" font-size="11" text-anchor="middle" >300</text>
<text x="291.25" y="249.20" font-size="11" text-anchor="middle" >350</text>
<text x="396.20" y="235.50" font-size="11" text-anchor="end" >0</text>
<text x="396.20" y="178.55" font-size="11" text-anchor="end" >500</text>
<text x="396.20" y="121.60" font-size="11" text-anchor="end" >1000</text>
<text x="396.20" y="64.65" font-size="11" text-anchor="end" >1500</text>
<text x="396.20" y="7.70" font-size="11" text-anchor="end" >2000</text>
<text x="414.93" y="249.20" font-size="11" text-anchor="middle" >320</text>
<text x="458.65" y="249.20" font-size="11" text-anchor="middle" >340</text>
<text x="502.37" y="249.20" font-size="11" text-anchor="middle" >360</text>
<text x="546.09" y="249.20" font-size="11" text-anchor="middle" >380</text>
<text x="589.81" y="249.20" font-size="11" text-anchor="middle" >400</text>
<text x="633.53" y="249.20" font-size="11" text-anchor="middle" >420</text>
<text x="677.25" y="249.20" font-size="11" text-anchor="middle" >440</text>
<text x="184.60" y="268.10" font-size="14" text-anchor="middle" >Wavelength (nm)</text>
<text transform="translate(551.5,269.0) scale(0.975,0.84)" font-size="14" text-anchor="middle">Wavelength (nm)</text>
<text transform="translate(11.2,126.5) rotate(-90)" font-size="14.5" text-anchor="middle">Absorbance</text>
<text transform="translate(369,122) rotate(-90)" font-size="13" text-anchor="middle">Intensity</text>
<text x="37.20" y="20.50" font-size="14" text-anchor="start" >(a)</text>
<text x="410.70" y="20.50" font-size="14" text-anchor="start" >(b)</text>
<path d="M298.4,13.60H315.5" stroke="#000000" stroke-width="1.6"/>
<text x="319.00" y="15.50" font-size="11" text-anchor="start" >8a</text>
<path d="M298.4,27.08H315.5" stroke="#ff1a1a" stroke-width="1.6"/>
<text x="319.00" y="28.98" font-size="11" text-anchor="start" >8d</text>
<path d="M298.4,40.56H315.5" stroke="#1010f0" stroke-width="1.6"/>
<text x="319.00" y="42.46" font-size="11" text-anchor="start" >8f</text>
<path d="M298.4,54.04H315.5" stroke="#1a8a1a" stroke-width="1.6"/>
<text x="319.00" y="55.94" font-size="11" text-anchor="start" >8g</text>
<path d="M298.4,67.52H315.5" stroke="#8a1a9a" stroke-width="1.6"/>
<text x="319.00" y="69.42" font-size="11" text-anchor="start" >8i</text>
<path d="M298.4,81.00H315.5" stroke="#9040ff" stroke-width="1.6"/>
<text x="319.00" y="82.90" font-size="11" text-anchor="start" >8j</text>
<path d="M298.4,94.48H315.5" stroke="#18c8cc" stroke-width="1.6"/>
<text x="319.00" y="96.38" font-size="11" text-anchor="start" >8l</text>
<path d="M298.4,107.96H315.5" stroke="#a01414" stroke-width="1.6"/>
<text x="319.00" y="109.86" font-size="11" text-anchor="start" >8m</text>
<path d="M298.4,121.44H315.5" stroke="#7c7c00" stroke-width="1.6"/>
<text x="319.00" y="123.34" font-size="11" text-anchor="start" >8n</text>
<path d="M298.4,134.92H315.5" stroke="#ff8020" stroke-width="1.6"/>
<text x="319.00" y="136.82" font-size="11" text-anchor="start" >8o</text>
<path d="M298.4,148.40H315.5" stroke="#ff33b0" stroke-width="1.6"/>
<text x="319.00" y="150.30" font-size="11" text-anchor="start" >8p</text>
<path d="M298.4,161.88H315.5" stroke="#14e014" stroke-width="1.6"/>
<text x="319.00" y="163.78" font-size="11" text-anchor="start" >8q</text>
<path d="M665.6,11.50H682.7" stroke="#000000" stroke-width="1.6"/>
<text transform="translate(683.8,13.90) scale(1.0,0.83)" font-size="11">8a</text>
<path d="M665.6,24.83H682.7" stroke="#ff3030" stroke-width="1.6"/>
<text transform="translate(683.8,27.23) scale(1.0,0.83)" font-size="11">8d</text>
<path d="M665.6,38.16H682.7" stroke="#3070e0" stroke-width="1.6"/>
<text transform="translate(683.8,40.56) scale(1.0,0.83)" font-size="11">8f</text>
<path d="M665.6,51.49H682.7" stroke="#208a90" stroke-width="1.6"/>
<text transform="translate(683.8,53.89) scale(1.0,0.83)" font-size="11">8g</text>
<path d="M665.6,64.82H682.7" stroke="#a020a8" stroke-width="1.6"/>
<text transform="translate(683.8,67.22) scale(1.0,0.83)" font-size="11">8i</text>
<path d="M665.6,78.15H682.7" stroke="#909010" stroke-width="1.6"/>
<text transform="translate(683.8,80.55) scale(1.0,0.83)" font-size="11">8j</text>
<path d="M665.6,91.48H682.7" stroke="#20c8d0" stroke-width="1.6"/>
<text transform="translate(683.8,93.88) scale(1.0,0.83)" font-size="11">8l</text>
<path d="M665.6,104.81H682.7" stroke="#881414" stroke-width="1.6"/>
<text transform="translate(683.8,107.21) scale(1.0,0.83)" font-size="11">8m</text>
<path d="M665.6,118.14H682.7" stroke="#e8a8f8" stroke-width="1.6"/>
<text transform="translate(683.8,120.54) scale(1.0,0.83)" font-size="11">8n</text>
<path d="M665.6,131.47H682.7" stroke="#ff1010" stroke-width="1.6"/>
<text transform="translate(683.8,133.87) scale(1.0,0.83)" font-size="11">8o</text>
<path d="M665.6,144.80H682.7" stroke="#d020ff" stroke-width="1.6"/>
<text transform="translate(683.8,147.20) scale(1.0,0.83)" font-size="11">8p</text>
<path d="M665.6,158.13H682.7" stroke="#60a020" stroke-width="1.6"/>
<text transform="translate(683.8,160.53) scale(1.0,0.83)" font-size="11">8q</text>
</svg>
</body></html>
